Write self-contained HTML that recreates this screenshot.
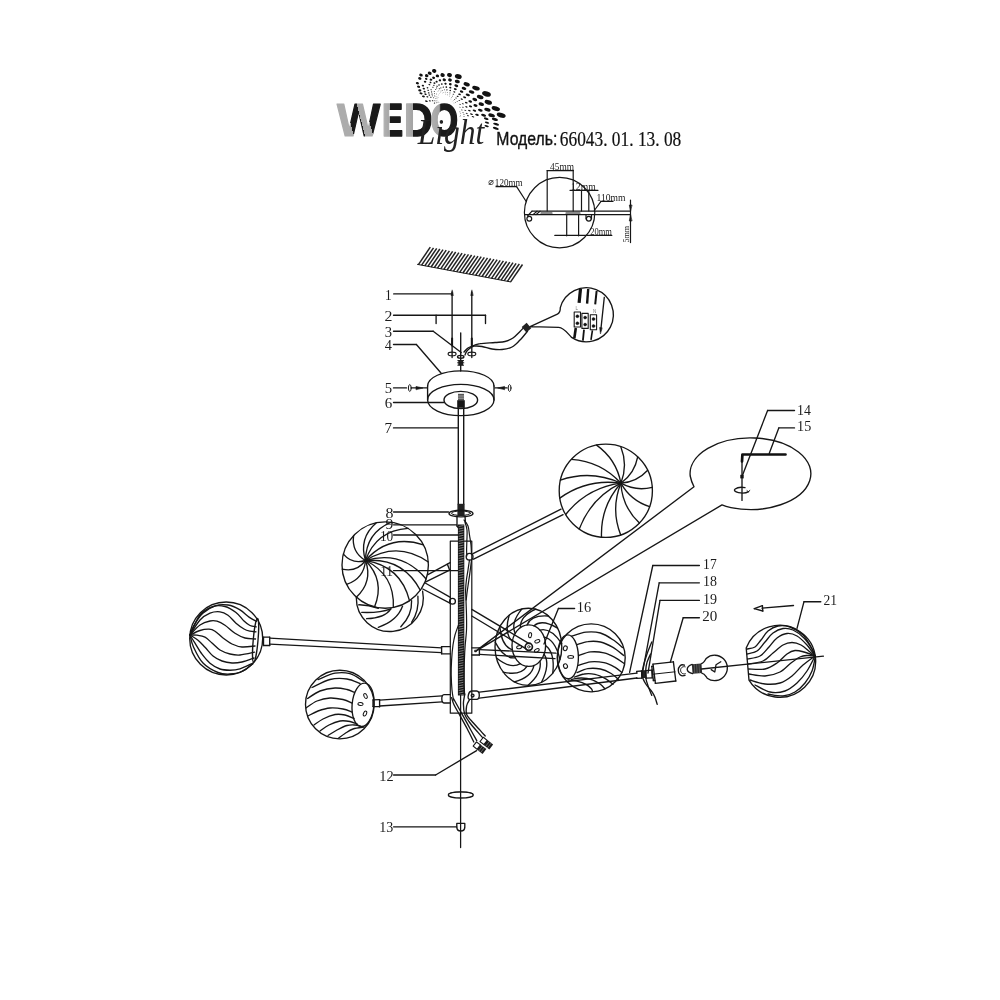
<!DOCTYPE html>
<html><head><meta charset="utf-8"><title>66043.01.13.08</title>
<style>
html,body{margin:0;padding:0;background:#fff;}
body{width:1000px;height:1000px;overflow:hidden;font-family:"Liberation Sans",sans-serif;}
svg{display:block;filter:grayscale(1);}
</style></head><body>
<svg width="1000" height="1000" viewBox="0 0 1000 1000" stroke-linecap="round" stroke-linejoin="round">
<rect x="0" y="0" width="1000" height="1000" fill="#fff"/>
<defs><linearGradient id="gW" gradientUnits="userSpaceOnUse" x1="3.33" y1="-0.89" x2="129.38" y2="-34.65"><stop offset="0.0000" stop-color="#acacac"/><stop offset="0.2468" stop-color="#acacac"/><stop offset="0.2468" stop-color="#1a1a1a"/><stop offset="0.4258" stop-color="#1a1a1a"/><stop offset="0.4258" stop-color="#acacac"/><stop offset="0.5581" stop-color="#acacac"/><stop offset="0.5581" stop-color="#1a1a1a"/><stop offset="1.0000" stop-color="#1a1a1a"/></linearGradient><linearGradient id="gE" gradientUnits="userSpaceOnUse" x1="6.00" x2="63.00" y1="0" y2="0"><stop offset="0.000" stop-color="#b0b0b0"/><stop offset="0.347" stop-color="#a4a4a4"/><stop offset="0.347" stop-color="#1a1a1a"/><stop offset="1.000" stop-color="#1a1a1a"/></linearGradient><linearGradient id="gD" gradientUnits="userSpaceOnUse" x1="6.00" x2="69.00" y1="0" y2="0"><stop offset="0.000" stop-color="#b0b0b0"/><stop offset="0.264" stop-color="#a4a4a4"/><stop offset="0.264" stop-color="#1a1a1a"/><stop offset="1.000" stop-color="#1a1a1a"/></linearGradient><linearGradient id="gO" gradientUnits="userSpaceOnUse" x1="4.00" x2="74.00" y1="0" y2="0"><stop offset="0.000" stop-color="#b0b0b0"/><stop offset="0.302" stop-color="#a4a4a4"/><stop offset="0.358" stop-color="#1a1a1a"/><stop offset="1.000" stop-color="#1a1a1a"/></linearGradient></defs>
<ellipse cx="434.5" cy="103.1" rx="0.7" ry="0.5" stroke="none" stroke-width="0" fill="#121212" transform="rotate(17 434.5 103.1)"/>
<ellipse cx="436.4" cy="102.8" rx="0.5" ry="0.3" stroke="none" stroke-width="0" fill="#121212" transform="rotate(17 436.4 102.8)"/>
<ellipse cx="438.0" cy="102.6" rx="0.4" ry="0.3" stroke="none" stroke-width="0" fill="#121212" transform="rotate(17 438.0 102.6)"/>
<ellipse cx="439.4" cy="102.6" rx="0.3" ry="0.2" stroke="none" stroke-width="0" fill="#444" transform="rotate(17 439.4 102.6)"/>
<ellipse cx="426.4" cy="101.2" rx="1.4" ry="0.8" stroke="none" stroke-width="0" fill="#121212" transform="rotate(17 426.4 101.2)"/>
<ellipse cx="429.8" cy="100.9" rx="1.0" ry="0.6" stroke="none" stroke-width="0" fill="#121212" transform="rotate(17 429.8 100.9)"/>
<ellipse cx="432.6" cy="100.8" rx="0.8" ry="0.5" stroke="none" stroke-width="0" fill="#121212" transform="rotate(17 432.6 100.8)"/>
<ellipse cx="434.9" cy="100.8" rx="0.6" ry="0.4" stroke="none" stroke-width="0" fill="#121212" transform="rotate(17 434.9 100.8)"/>
<ellipse cx="436.9" cy="100.9" rx="0.4" ry="0.3" stroke="none" stroke-width="0" fill="#121212" transform="rotate(17 436.9 100.9)"/>
<ellipse cx="438.5" cy="101.1" rx="0.3" ry="0.2" stroke="none" stroke-width="0" fill="#444" transform="rotate(17 438.5 101.1)"/>
<ellipse cx="423.4" cy="96.4" rx="1.5" ry="0.9" stroke="none" stroke-width="0" fill="#121212" transform="rotate(17 423.4 96.4)"/>
<ellipse cx="427.4" cy="96.8" rx="1.1" ry="0.7" stroke="none" stroke-width="0" fill="#121212" transform="rotate(17 427.4 96.8)"/>
<ellipse cx="430.8" cy="97.3" rx="0.8" ry="0.5" stroke="none" stroke-width="0" fill="#121212" transform="rotate(17 430.8 97.3)"/>
<ellipse cx="433.6" cy="97.8" rx="0.6" ry="0.4" stroke="none" stroke-width="0" fill="#121212" transform="rotate(17 433.6 97.8)"/>
<ellipse cx="435.9" cy="98.4" rx="0.5" ry="0.3" stroke="none" stroke-width="0" fill="#121212" transform="rotate(17 435.9 98.4)"/>
<ellipse cx="437.8" cy="98.9" rx="0.4" ry="0.2" stroke="none" stroke-width="0" fill="#444" transform="rotate(17 437.8 98.9)"/>
<ellipse cx="421.0" cy="93.4" rx="1.6" ry="1.0" stroke="none" stroke-width="0" fill="#121212" transform="rotate(17 421.0 93.4)"/>
<ellipse cx="425.5" cy="94.2" rx="1.2" ry="0.8" stroke="none" stroke-width="0" fill="#121212" transform="rotate(17 425.5 94.2)"/>
<ellipse cx="429.3" cy="95.1" rx="0.9" ry="0.6" stroke="none" stroke-width="0" fill="#121212" transform="rotate(17 429.3 95.1)"/>
<ellipse cx="432.4" cy="95.9" rx="0.7" ry="0.4" stroke="none" stroke-width="0" fill="#121212" transform="rotate(17 432.4 95.9)"/>
<ellipse cx="435.0" cy="96.7" rx="0.5" ry="0.3" stroke="none" stroke-width="0" fill="#121212" transform="rotate(17 435.0 96.7)"/>
<ellipse cx="437.1" cy="97.5" rx="0.4" ry="0.2" stroke="none" stroke-width="0" fill="#444" transform="rotate(17 437.1 97.5)"/>
<ellipse cx="419.8" cy="90.4" rx="1.6" ry="1.1" stroke="none" stroke-width="0" fill="#121212" transform="rotate(17 419.8 90.4)"/>
<ellipse cx="424.7" cy="91.7" rx="1.2" ry="0.8" stroke="none" stroke-width="0" fill="#121212" transform="rotate(17 424.7 91.7)"/>
<ellipse cx="428.7" cy="92.9" rx="0.9" ry="0.6" stroke="none" stroke-width="0" fill="#121212" transform="rotate(17 428.7 92.9)"/>
<ellipse cx="432.0" cy="94.1" rx="0.7" ry="0.5" stroke="none" stroke-width="0" fill="#121212" transform="rotate(17 432.0 94.1)"/>
<ellipse cx="434.7" cy="95.2" rx="0.5" ry="0.3" stroke="none" stroke-width="0" fill="#121212" transform="rotate(17 434.7 95.2)"/>
<ellipse cx="436.9" cy="96.2" rx="0.4" ry="0.3" stroke="none" stroke-width="0" fill="#444" transform="rotate(17 436.9 96.2)"/>
<ellipse cx="438.7" cy="97.2" rx="0.3" ry="0.2" stroke="none" stroke-width="0" fill="#444" transform="rotate(17 438.7 97.2)"/>
<ellipse cx="418.6" cy="86.8" rx="1.6" ry="1.1" stroke="none" stroke-width="0" fill="#121212" transform="rotate(17 418.6 86.8)"/>
<ellipse cx="423.8" cy="88.6" rx="1.2" ry="0.9" stroke="none" stroke-width="0" fill="#121212" transform="rotate(17 423.8 88.6)"/>
<ellipse cx="428.1" cy="90.3" rx="0.9" ry="0.6" stroke="none" stroke-width="0" fill="#121212" transform="rotate(17 428.1 90.3)"/>
<ellipse cx="431.6" cy="91.9" rx="0.7" ry="0.5" stroke="none" stroke-width="0" fill="#121212" transform="rotate(17 431.6 91.9)"/>
<ellipse cx="434.4" cy="93.4" rx="0.5" ry="0.4" stroke="none" stroke-width="0" fill="#121212" transform="rotate(17 434.4 93.4)"/>
<ellipse cx="436.7" cy="94.7" rx="0.4" ry="0.3" stroke="none" stroke-width="0" fill="#444" transform="rotate(17 436.7 94.7)"/>
<ellipse cx="438.6" cy="95.9" rx="0.3" ry="0.2" stroke="none" stroke-width="0" fill="#444" transform="rotate(17 438.6 95.9)"/>
<ellipse cx="417.4" cy="83.2" rx="1.6" ry="1.2" stroke="none" stroke-width="0" fill="#121212" transform="rotate(17 417.4 83.2)"/>
<ellipse cx="422.9" cy="85.6" rx="1.2" ry="0.9" stroke="none" stroke-width="0" fill="#121212" transform="rotate(17 422.9 85.6)"/>
<ellipse cx="427.5" cy="87.8" rx="0.9" ry="0.7" stroke="none" stroke-width="0" fill="#121212" transform="rotate(17 427.5 87.8)"/>
<ellipse cx="431.1" cy="89.7" rx="0.7" ry="0.5" stroke="none" stroke-width="0" fill="#121212" transform="rotate(17 431.1 89.7)"/>
<ellipse cx="434.2" cy="91.5" rx="0.5" ry="0.4" stroke="none" stroke-width="0" fill="#121212" transform="rotate(17 434.2 91.5)"/>
<ellipse cx="436.6" cy="93.2" rx="0.4" ry="0.3" stroke="none" stroke-width="0" fill="#444" transform="rotate(17 436.6 93.2)"/>
<ellipse cx="438.6" cy="94.6" rx="0.3" ry="0.2" stroke="none" stroke-width="0" fill="#444" transform="rotate(17 438.6 94.6)"/>
<ellipse cx="419.8" cy="78.4" rx="1.7" ry="1.3" stroke="none" stroke-width="0" fill="#121212" transform="rotate(17 419.8 78.4)"/>
<ellipse cx="425.1" cy="81.7" rx="1.3" ry="1.0" stroke="none" stroke-width="0" fill="#121212" transform="rotate(17 425.1 81.7)"/>
<ellipse cx="429.4" cy="84.6" rx="1.0" ry="0.7" stroke="none" stroke-width="0" fill="#121212" transform="rotate(17 429.4 84.6)"/>
<ellipse cx="432.9" cy="87.2" rx="0.7" ry="0.5" stroke="none" stroke-width="0" fill="#121212" transform="rotate(17 432.9 87.2)"/>
<ellipse cx="435.7" cy="89.5" rx="0.5" ry="0.4" stroke="none" stroke-width="0" fill="#121212" transform="rotate(17 435.7 89.5)"/>
<ellipse cx="438.0" cy="91.5" rx="0.4" ry="0.3" stroke="none" stroke-width="0" fill="#444" transform="rotate(17 438.0 91.5)"/>
<ellipse cx="439.8" cy="93.3" rx="0.3" ry="0.2" stroke="none" stroke-width="0" fill="#444" transform="rotate(17 439.8 93.3)"/>
<ellipse cx="421.0" cy="75.1" rx="1.8" ry="1.4" stroke="none" stroke-width="0" fill="#121212" transform="rotate(17 421.0 75.1)"/>
<ellipse cx="426.2" cy="78.9" rx="1.3" ry="1.0" stroke="none" stroke-width="0" fill="#121212" transform="rotate(17 426.2 78.9)"/>
<ellipse cx="430.5" cy="82.4" rx="1.0" ry="0.8" stroke="none" stroke-width="0" fill="#121212" transform="rotate(17 430.5 82.4)"/>
<ellipse cx="433.9" cy="85.4" rx="0.7" ry="0.6" stroke="none" stroke-width="0" fill="#121212" transform="rotate(17 433.9 85.4)"/>
<ellipse cx="436.6" cy="88.0" rx="0.6" ry="0.4" stroke="none" stroke-width="0" fill="#121212" transform="rotate(17 436.6 88.0)"/>
<ellipse cx="438.8" cy="90.3" rx="0.4" ry="0.3" stroke="none" stroke-width="0" fill="#444" transform="rotate(17 438.8 90.3)"/>
<ellipse cx="440.5" cy="92.3" rx="0.3" ry="0.2" stroke="none" stroke-width="0" fill="#444" transform="rotate(17 440.5 92.3)"/>
<ellipse cx="426.7" cy="75.7" rx="1.8" ry="1.5" stroke="none" stroke-width="0" fill="#121212" transform="rotate(17 426.7 75.7)"/>
<ellipse cx="431.0" cy="79.7" rx="1.4" ry="1.1" stroke="none" stroke-width="0" fill="#121212" transform="rotate(17 431.0 79.7)"/>
<ellipse cx="434.4" cy="83.1" rx="1.0" ry="0.8" stroke="none" stroke-width="0" fill="#121212" transform="rotate(17 434.4 83.1)"/>
<ellipse cx="437.1" cy="86.2" rx="0.8" ry="0.6" stroke="none" stroke-width="0" fill="#121212" transform="rotate(17 437.1 86.2)"/>
<ellipse cx="439.3" cy="88.8" rx="0.6" ry="0.5" stroke="none" stroke-width="0" fill="#121212" transform="rotate(17 439.3 88.8)"/>
<ellipse cx="441.0" cy="91.0" rx="0.4" ry="0.4" stroke="none" stroke-width="0" fill="#444" transform="rotate(17 441.0 91.0)"/>
<ellipse cx="442.3" cy="93.0" rx="0.3" ry="0.3" stroke="none" stroke-width="0" fill="#444" transform="rotate(17 442.3 93.0)"/>
<ellipse cx="429.7" cy="73.3" rx="2.0" ry="1.6" stroke="none" stroke-width="0" fill="#121212" transform="rotate(17 429.7 73.3)"/>
<ellipse cx="433.6" cy="77.8" rx="1.5" ry="1.2" stroke="none" stroke-width="0" fill="#121212" transform="rotate(17 433.6 77.8)"/>
<ellipse cx="436.6" cy="81.7" rx="1.1" ry="0.9" stroke="none" stroke-width="0" fill="#121212" transform="rotate(17 436.6 81.7)"/>
<ellipse cx="439.0" cy="85.0" rx="0.8" ry="0.7" stroke="none" stroke-width="0" fill="#121212" transform="rotate(17 439.0 85.0)"/>
<ellipse cx="440.9" cy="87.9" rx="0.6" ry="0.5" stroke="none" stroke-width="0" fill="#121212" transform="rotate(17 440.9 87.9)"/>
<ellipse cx="442.4" cy="90.4" rx="0.5" ry="0.4" stroke="none" stroke-width="0" fill="#444" transform="rotate(17 442.4 90.4)"/>
<ellipse cx="443.5" cy="92.5" rx="0.4" ry="0.3" stroke="none" stroke-width="0" fill="#444" transform="rotate(17 443.5 92.5)"/>
<ellipse cx="434.2" cy="70.9" rx="2.2" ry="1.9" stroke="none" stroke-width="0" fill="#121212" transform="rotate(17 434.2 70.9)"/>
<ellipse cx="437.4" cy="75.9" rx="1.7" ry="1.4" stroke="none" stroke-width="0" fill="#121212" transform="rotate(17 437.4 75.9)"/>
<ellipse cx="439.9" cy="80.3" rx="1.2" ry="1.1" stroke="none" stroke-width="0" fill="#121212" transform="rotate(17 439.9 80.3)"/>
<ellipse cx="441.8" cy="84.0" rx="0.9" ry="0.8" stroke="none" stroke-width="0" fill="#121212" transform="rotate(17 441.8 84.0)"/>
<ellipse cx="443.3" cy="87.1" rx="0.7" ry="0.6" stroke="none" stroke-width="0" fill="#121212" transform="rotate(17 443.3 87.1)"/>
<ellipse cx="444.4" cy="89.8" rx="0.5" ry="0.5" stroke="none" stroke-width="0" fill="#444" transform="rotate(17 444.4 89.8)"/>
<ellipse cx="445.2" cy="92.1" rx="0.4" ry="0.3" stroke="none" stroke-width="0" fill="#444" transform="rotate(17 445.2 92.1)"/>
<ellipse cx="445.8" cy="94.1" rx="0.3" ry="0.3" stroke="none" stroke-width="0" fill="#444" transform="rotate(17 445.8 94.1)"/>
<ellipse cx="442.6" cy="75.1" rx="2.2" ry="1.9" stroke="none" stroke-width="0" fill="#121212" transform="rotate(17 442.6 75.1)"/>
<ellipse cx="444.3" cy="79.8" rx="1.7" ry="1.4" stroke="none" stroke-width="0" fill="#121212" transform="rotate(17 444.3 79.8)"/>
<ellipse cx="445.5" cy="83.7" rx="1.2" ry="1.0" stroke="none" stroke-width="0" fill="#121212" transform="rotate(17 445.5 83.7)"/>
<ellipse cx="446.3" cy="87.1" rx="0.9" ry="0.8" stroke="none" stroke-width="0" fill="#121212" transform="rotate(17 446.3 87.1)"/>
<ellipse cx="446.9" cy="89.9" rx="0.7" ry="0.6" stroke="none" stroke-width="0" fill="#121212" transform="rotate(17 446.9 89.9)"/>
<ellipse cx="447.3" cy="92.3" rx="0.5" ry="0.4" stroke="none" stroke-width="0" fill="#444" transform="rotate(17 447.3 92.3)"/>
<ellipse cx="447.5" cy="94.3" rx="0.4" ry="0.3" stroke="none" stroke-width="0" fill="#444" transform="rotate(17 447.5 94.3)"/>
<ellipse cx="447.6" cy="95.9" rx="0.3" ry="0.2" stroke="none" stroke-width="0" fill="#444" transform="rotate(17 447.6 95.9)"/>
<ellipse cx="449.5" cy="75.1" rx="2.5" ry="2.1" stroke="none" stroke-width="0" fill="#121212" transform="rotate(17 449.5 75.1)"/>
<ellipse cx="450.0" cy="80.0" rx="1.9" ry="1.6" stroke="none" stroke-width="0" fill="#121212" transform="rotate(17 450.0 80.0)"/>
<ellipse cx="450.3" cy="84.2" rx="1.4" ry="1.2" stroke="none" stroke-width="0" fill="#121212" transform="rotate(17 450.3 84.2)"/>
<ellipse cx="450.3" cy="87.6" rx="1.1" ry="0.9" stroke="none" stroke-width="0" fill="#121212" transform="rotate(17 450.3 87.6)"/>
<ellipse cx="450.2" cy="90.5" rx="0.8" ry="0.7" stroke="none" stroke-width="0" fill="#121212" transform="rotate(17 450.2 90.5)"/>
<ellipse cx="450.0" cy="92.9" rx="0.6" ry="0.5" stroke="none" stroke-width="0" fill="#444" transform="rotate(17 450.0 92.9)"/>
<ellipse cx="449.8" cy="94.9" rx="0.4" ry="0.4" stroke="none" stroke-width="0" fill="#444" transform="rotate(17 449.8 94.9)"/>
<ellipse cx="449.5" cy="96.5" rx="0.3" ry="0.3" stroke="none" stroke-width="0" fill="#444" transform="rotate(17 449.5 96.5)"/>
<ellipse cx="458.3" cy="76.5" rx="3.5" ry="2.3" stroke="none" stroke-width="0" fill="#121212" transform="rotate(17 458.3 76.5)"/>
<ellipse cx="457.3" cy="81.5" rx="2.6" ry="1.7" stroke="none" stroke-width="0" fill="#121212" transform="rotate(17 457.3 81.5)"/>
<ellipse cx="456.3" cy="85.7" rx="2.0" ry="1.3" stroke="none" stroke-width="0" fill="#121212" transform="rotate(17 456.3 85.7)"/>
<ellipse cx="455.3" cy="89.1" rx="1.5" ry="1.0" stroke="none" stroke-width="0" fill="#121212" transform="rotate(17 455.3 89.1)"/>
<ellipse cx="454.3" cy="91.9" rx="1.1" ry="0.7" stroke="none" stroke-width="0" fill="#121212" transform="rotate(17 454.3 91.9)"/>
<ellipse cx="453.4" cy="94.2" rx="0.8" ry="0.5" stroke="none" stroke-width="0" fill="#444" transform="rotate(17 453.4 94.2)"/>
<ellipse cx="452.5" cy="96.1" rx="0.6" ry="0.4" stroke="none" stroke-width="0" fill="#444" transform="rotate(17 452.5 96.1)"/>
<ellipse cx="451.7" cy="97.7" rx="0.5" ry="0.3" stroke="none" stroke-width="0" fill="#444" transform="rotate(17 451.7 97.7)"/>
<ellipse cx="451.0" cy="99.0" rx="0.4" ry="0.2" stroke="none" stroke-width="0" fill="#444" transform="rotate(17 451.0 99.0)"/>
<ellipse cx="466.7" cy="84.3" rx="3.2" ry="2.0" stroke="none" stroke-width="0" fill="#121212" transform="rotate(17 466.7 84.3)"/>
<ellipse cx="464.0" cy="88.4" rx="2.4" ry="1.5" stroke="none" stroke-width="0" fill="#121212" transform="rotate(17 464.0 88.4)"/>
<ellipse cx="461.6" cy="91.6" rx="1.8" ry="1.1" stroke="none" stroke-width="0" fill="#121212" transform="rotate(17 461.6 91.6)"/>
<ellipse cx="459.5" cy="94.3" rx="1.4" ry="0.8" stroke="none" stroke-width="0" fill="#121212" transform="rotate(17 459.5 94.3)"/>
<ellipse cx="457.6" cy="96.4" rx="1.0" ry="0.6" stroke="none" stroke-width="0" fill="#121212" transform="rotate(17 457.6 96.4)"/>
<ellipse cx="456.0" cy="98.1" rx="0.8" ry="0.5" stroke="none" stroke-width="0" fill="#444" transform="rotate(17 456.0 98.1)"/>
<ellipse cx="454.6" cy="99.5" rx="0.6" ry="0.4" stroke="none" stroke-width="0" fill="#444" transform="rotate(17 454.6 99.5)"/>
<ellipse cx="453.3" cy="100.5" rx="0.4" ry="0.3" stroke="none" stroke-width="0" fill="#444" transform="rotate(17 453.3 100.5)"/>
<ellipse cx="452.2" cy="101.4" rx="0.3" ry="0.2" stroke="none" stroke-width="0" fill="#444" transform="rotate(17 452.2 101.4)"/>
<ellipse cx="476.0" cy="88.2" rx="3.9" ry="2.1" stroke="none" stroke-width="0" fill="#121212" transform="rotate(17 476.0 88.2)"/>
<ellipse cx="471.6" cy="92.0" rx="2.9" ry="1.6" stroke="none" stroke-width="0" fill="#121212" transform="rotate(17 471.6 92.0)"/>
<ellipse cx="467.8" cy="94.9" rx="2.2" ry="1.2" stroke="none" stroke-width="0" fill="#121212" transform="rotate(17 467.8 94.9)"/>
<ellipse cx="464.6" cy="97.3" rx="1.6" ry="0.9" stroke="none" stroke-width="0" fill="#121212" transform="rotate(17 464.6 97.3)"/>
<ellipse cx="461.7" cy="99.1" rx="1.2" ry="0.7" stroke="none" stroke-width="0" fill="#121212" transform="rotate(17 461.7 99.1)"/>
<ellipse cx="459.3" cy="100.5" rx="0.9" ry="0.5" stroke="none" stroke-width="0" fill="#444" transform="rotate(17 459.3 100.5)"/>
<ellipse cx="457.2" cy="101.6" rx="0.7" ry="0.4" stroke="none" stroke-width="0" fill="#444" transform="rotate(17 457.2 101.6)"/>
<ellipse cx="455.5" cy="102.4" rx="0.5" ry="0.3" stroke="none" stroke-width="0" fill="#444" transform="rotate(17 455.5 102.4)"/>
<ellipse cx="454.0" cy="103.0" rx="0.4" ry="0.2" stroke="none" stroke-width="0" fill="#444" transform="rotate(17 454.0 103.0)"/>
<ellipse cx="486.5" cy="93.9" rx="4.5" ry="2.6" stroke="none" stroke-width="0" fill="#121212" transform="rotate(17 486.5 93.9)"/>
<ellipse cx="480.2" cy="97.1" rx="3.4" ry="2.0" stroke="none" stroke-width="0" fill="#121212" transform="rotate(17 480.2 97.1)"/>
<ellipse cx="474.8" cy="99.5" rx="2.5" ry="1.5" stroke="none" stroke-width="0" fill="#121212" transform="rotate(17 474.8 99.5)"/>
<ellipse cx="470.2" cy="101.4" rx="1.9" ry="1.1" stroke="none" stroke-width="0" fill="#121212" transform="rotate(17 470.2 101.4)"/>
<ellipse cx="466.3" cy="102.7" rx="1.4" ry="0.8" stroke="none" stroke-width="0" fill="#121212" transform="rotate(17 466.3 102.7)"/>
<ellipse cx="462.9" cy="103.7" rx="1.1" ry="0.6" stroke="none" stroke-width="0" fill="#444" transform="rotate(17 462.9 103.7)"/>
<ellipse cx="460.1" cy="104.4" rx="0.8" ry="0.5" stroke="none" stroke-width="0" fill="#444" transform="rotate(17 460.1 104.4)"/>
<ellipse cx="488.3" cy="102.3" rx="3.8" ry="2.2" stroke="none" stroke-width="0" fill="#121212" transform="rotate(17 488.3 102.3)"/>
<ellipse cx="481.3" cy="104.2" rx="2.8" ry="1.7" stroke="none" stroke-width="0" fill="#121212" transform="rotate(17 481.3 104.2)"/>
<ellipse cx="475.5" cy="105.5" rx="2.1" ry="1.3" stroke="none" stroke-width="0" fill="#121212" transform="rotate(17 475.5 105.5)"/>
<ellipse cx="470.5" cy="106.4" rx="1.6" ry="0.9" stroke="none" stroke-width="0" fill="#121212" transform="rotate(17 470.5 106.4)"/>
<ellipse cx="466.4" cy="106.9" rx="1.2" ry="0.7" stroke="none" stroke-width="0" fill="#121212" transform="rotate(17 466.4 106.9)"/>
<ellipse cx="462.9" cy="107.2" rx="0.9" ry="0.5" stroke="none" stroke-width="0" fill="#444" transform="rotate(17 462.9 107.2)"/>
<ellipse cx="460.0" cy="107.3" rx="0.7" ry="0.4" stroke="none" stroke-width="0" fill="#444" transform="rotate(17 460.0 107.3)"/>
<ellipse cx="495.8" cy="108.6" rx="4.3" ry="2.2" stroke="none" stroke-width="0" fill="#121212" transform="rotate(17 495.8 108.6)"/>
<ellipse cx="487.4" cy="109.7" rx="3.2" ry="1.7" stroke="none" stroke-width="0" fill="#121212" transform="rotate(17 487.4 109.7)"/>
<ellipse cx="480.3" cy="110.3" rx="2.4" ry="1.3" stroke="none" stroke-width="0" fill="#121212" transform="rotate(17 480.3 110.3)"/>
<ellipse cx="474.4" cy="110.6" rx="1.8" ry="0.9" stroke="none" stroke-width="0" fill="#121212" transform="rotate(17 474.4 110.6)"/>
<ellipse cx="469.4" cy="110.6" rx="1.4" ry="0.7" stroke="none" stroke-width="0" fill="#121212" transform="rotate(17 469.4 110.6)"/>
<ellipse cx="465.3" cy="110.4" rx="1.0" ry="0.5" stroke="none" stroke-width="0" fill="#444" transform="rotate(17 465.3 110.4)"/>
<ellipse cx="461.8" cy="110.0" rx="0.8" ry="0.4" stroke="none" stroke-width="0" fill="#444" transform="rotate(17 461.8 110.0)"/>
<ellipse cx="501.2" cy="115.2" rx="4.6" ry="2.4" stroke="none" stroke-width="0" fill="#121212" transform="rotate(17 501.2 115.2)"/>
<ellipse cx="491.6" cy="115.4" rx="3.4" ry="1.8" stroke="none" stroke-width="0" fill="#121212" transform="rotate(17 491.6 115.4)"/>
<ellipse cx="483.6" cy="115.3" rx="2.6" ry="1.3" stroke="none" stroke-width="0" fill="#121212" transform="rotate(17 483.6 115.3)"/>
<ellipse cx="477.0" cy="114.8" rx="1.9" ry="1.0" stroke="none" stroke-width="0" fill="#121212" transform="rotate(17 477.0 114.8)"/>
<ellipse cx="471.4" cy="114.2" rx="1.5" ry="0.7" stroke="none" stroke-width="0" fill="#121212" transform="rotate(17 471.4 114.2)"/>
<ellipse cx="466.8" cy="113.5" rx="1.1" ry="0.6" stroke="none" stroke-width="0" fill="#444" transform="rotate(17 466.8 113.5)"/>
<ellipse cx="463.0" cy="112.7" rx="0.8" ry="0.4" stroke="none" stroke-width="0" fill="#444" transform="rotate(17 463.0 112.7)"/>
<ellipse cx="459.9" cy="111.9" rx="0.6" ry="0.3" stroke="none" stroke-width="0" fill="#444" transform="rotate(17 459.9 111.9)"/>
<ellipse cx="494.9" cy="119.4" rx="3.2" ry="1.4" stroke="none" stroke-width="0" fill="#121212" transform="rotate(17 494.9 119.4)"/>
<ellipse cx="486.2" cy="118.7" rx="2.4" ry="1.1" stroke="none" stroke-width="0" fill="#121212" transform="rotate(17 486.2 118.7)"/>
<ellipse cx="473.0" cy="116.7" rx="1.4" ry="0.6" stroke="none" stroke-width="0" fill="#121212" transform="rotate(17 473.0 116.7)"/>
<ellipse cx="468.0" cy="115.7" rx="1.0" ry="0.5" stroke="none" stroke-width="0" fill="#121212" transform="rotate(17 468.0 115.7)"/>
<ellipse cx="463.9" cy="114.6" rx="0.8" ry="0.3" stroke="none" stroke-width="0" fill="#444" transform="rotate(17 463.9 114.6)"/>
<ellipse cx="460.6" cy="113.5" rx="0.6" ry="0.3" stroke="none" stroke-width="0" fill="#444" transform="rotate(17 460.6 113.5)"/>
<ellipse cx="496.1" cy="124.2" rx="3.1" ry="1.2" stroke="none" stroke-width="0" fill="#121212" transform="rotate(17 496.1 124.2)"/>
<ellipse cx="487.0" cy="122.7" rx="2.3" ry="0.9" stroke="none" stroke-width="0" fill="#121212" transform="rotate(17 487.0 122.7)"/>
<ellipse cx="464.0" cy="116.6" rx="0.7" ry="0.3" stroke="none" stroke-width="0" fill="#444" transform="rotate(17 464.0 116.6)"/>
<ellipse cx="460.5" cy="115.2" rx="0.6" ry="0.2" stroke="none" stroke-width="0" fill="#444" transform="rotate(17 460.5 115.2)"/>
<ellipse cx="495.8" cy="128.4" rx="3.1" ry="1.2" stroke="none" stroke-width="0" fill="#121212" transform="rotate(17 495.8 128.4)"/>
<ellipse cx="486.6" cy="126.2" rx="2.3" ry="0.9" stroke="none" stroke-width="0" fill="#121212" transform="rotate(17 486.6 126.2)"/>
<ellipse cx="460.0" cy="116.5" rx="0.6" ry="0.2" stroke="none" stroke-width="0" fill="#444" transform="rotate(17 460.0 116.5)"/>
<g><text transform="translate(337.00,136.00) scale(0.4589,0.4696)" font-size="100" font-weight="bold" font-style="normal" style="font-family:&quot;Liberation Sans&quot;,sans-serif" fill="url(#gW)" stroke="url(#gW)" stroke-width="2.6">W</text><text transform="translate(382.11,135.80) scale(0.3158,0.4638)" font-size="100" font-weight="bold" font-style="normal" style="font-family:&quot;Liberation Sans&quot;,sans-serif" fill="url(#gE)" stroke="url(#gE)" stroke-width="3.4">E</text><text transform="translate(403.93,135.70) scale(0.3952,0.4551)" font-size="100" font-weight="bold" font-style="normal" style="font-family:&quot;Liberation Sans&quot;,sans-serif" fill="url(#gD)" stroke="url(#gD)" stroke-width="3.4">D</text><text transform="translate(430.38,136.20) scale(0.3557,0.4629)" font-size="100" font-weight="bold" font-style="normal" style="font-family:&quot;Liberation Sans&quot;,sans-serif" fill="url(#gO)" stroke="url(#gO)" stroke-width="3.4">O</text></g>
<text transform="translate(417.63,144.00) scale(0.3157,0.3551)" font-size="100" font-weight="normal" font-style="italic" style="font-family:&quot;Liberation Serif&quot;,serif" fill="#222" >Light</text>
<text transform="translate(496.34,145.30) scale(0.1579,0.1826)" font-size="100" font-weight="normal" font-style="normal" style="font-family:&quot;Liberation Sans&quot;,sans-serif" fill="#111" stroke="#111" stroke-width="2">Модель:</text>
<text transform="translate(559.81,146.30) scale(0.1736,0.2000)" font-size="100" font-weight="normal" font-style="normal" style="font-family:&quot;Liberation Serif&quot;,serif" fill="#111" stroke="#111" stroke-width="1">66043. 01. 13. 08</text>
<ellipse cx="559.6" cy="212.6" rx="35.2" ry="35.2" stroke="#161616" stroke-width="1.2" fill="none"/>
<text transform="translate(550.11,170.00) scale(0.0938,0.1108)" font-size="100" font-weight="normal" font-style="normal" style="font-family:&quot;Liberation Serif&quot;,serif" fill="#1a1a1a" >45mm</text>
<line x1="547.2" y1="170.6" x2="573.4" y2="170.6" stroke="#161616" stroke-width="1.2" />
<line x1="547.2" y1="170.6" x2="547.2" y2="211.0" stroke="#161616" stroke-width="1.2" />
<line x1="573.2" y1="170.6" x2="573.2" y2="211.0" stroke="#161616" stroke-width="1.2" />
<text transform="translate(488.32,185.40) scale(0.0926,0.1000)" font-size="100" font-weight="normal" font-style="normal" style="font-family:&quot;DejaVu Sans&quot;,sans-serif" fill="#1a1a1a" >⌀</text>
<text transform="translate(494.87,186.00) scale(0.0906,0.1121)" font-size="100" font-weight="normal" font-style="normal" style="font-family:&quot;Liberation Serif&quot;,serif" fill="#1a1a1a" >120mm</text>
<line x1="496.0" y1="186.7" x2="516.6" y2="186.7" stroke="#161616" stroke-width="1.2" />
<line x1="516.6" y1="186.7" x2="526.2" y2="201.5" stroke="#161616" stroke-width="1.2" />
<text transform="translate(571.03,189.80) scale(0.0964,0.1061)" font-size="100" font-weight="normal" font-style="normal" style="font-family:&quot;Liberation Serif&quot;,serif" fill="#1a1a1a" >12mm</text>
<line x1="570.0" y1="190.3" x2="598.0" y2="190.3" stroke="#161616" stroke-width="1.2" />
<line x1="581.5" y1="190.3" x2="581.5" y2="211.0" stroke="#161616" stroke-width="1.2" />
<line x1="588.8" y1="190.3" x2="588.8" y2="211.0" stroke="#161616" stroke-width="1.2" />
<text transform="translate(596.53,200.90) scale(0.0959,0.1076)" font-size="100" font-weight="normal" font-style="normal" style="font-family:&quot;Liberation Serif&quot;,serif" fill="#1a1a1a" >110mm</text>
<line x1="613.0" y1="201.4" x2="601.0" y2="201.4" stroke="#161616" stroke-width="1.2" />
<line x1="601.0" y1="201.4" x2="594.3" y2="210.5" stroke="#161616" stroke-width="1.2" />
<line x1="532.0" y1="211.1" x2="630.5" y2="211.1" stroke="#161616" stroke-width="1.2" />
<line x1="525.0" y1="214.6" x2="630.5" y2="214.6" stroke="#161616" stroke-width="1.2" />
<line x1="532.0" y1="211.1" x2="527.5" y2="216.0" stroke="#161616" stroke-width="1.2" />
<ellipse cx="529.3" cy="218.8" rx="2.4" ry="2.4" stroke="#161616" stroke-width="1.2" fill="none"/>
<line x1="533.0" y1="214.6" x2="537.0" y2="211.2" stroke="#161616" stroke-width="1.2" />
<line x1="536.0" y1="214.6" x2="540.0" y2="211.2" stroke="#161616" stroke-width="1.2" />
<line x1="541.0" y1="213.0" x2="552.0" y2="213.0" stroke="#161616" stroke-width="1.2" />
<ellipse cx="588.8" cy="218.8" rx="2.4" ry="2.4" stroke="#161616" stroke-width="1.2" fill="none"/>
<line x1="586.0" y1="214.6" x2="586.0" y2="219.0" stroke="#161616" stroke-width="1.2" />
<line x1="591.5" y1="214.6" x2="591.5" y2="219.0" stroke="#161616" stroke-width="1.2" />
<line x1="566.0" y1="213.0" x2="580.0" y2="213.0" stroke="#161616" stroke-width="1.2" />
<line x1="566.7" y1="214.6" x2="566.7" y2="235.8" stroke="#161616" stroke-width="1.2" />
<line x1="578.6" y1="214.6" x2="578.6" y2="235.8" stroke="#161616" stroke-width="1.2" />
<line x1="554.8" y1="235.4" x2="611.8" y2="235.4" stroke="#161616" stroke-width="1.2" />
<text transform="translate(590.16,235.40) scale(0.0849,0.1030)" font-size="100" font-weight="normal" font-style="normal" style="font-family:&quot;Liberation Serif&quot;,serif" fill="#1a1a1a" >20mm</text>
<line x1="630.5" y1="200.0" x2="630.5" y2="242.6" stroke="#161616" stroke-width="1.2" />
<path d="M630.5,211.1 L629.3,205.0 L631.7,205.0 Z" stroke="#161616" stroke-width="0.6" fill="#161616" />
<path d="M630.5,214.6 L629.3,221.0 L631.7,221.0 Z" stroke="#161616" stroke-width="0.6" fill="#161616" />
<text x="0" y="0" font-size="8.5" style="font-family:&quot;Liberation Serif&quot;,serif" fill="#1a1a1a" transform="translate(629.3,242.6) rotate(-90)" textLength="16.5" lengthAdjust="spacingAndGlyphs">5mm</text>
<line x1="418.4" y1="264.6" x2="430.3" y2="247.2" stroke="#222" stroke-width="1.5" stroke-linecap="butt"/>
<line x1="421.6" y1="265.2" x2="433.5" y2="247.8" stroke="#222" stroke-width="1.5" stroke-linecap="butt"/>
<line x1="424.8" y1="265.8" x2="436.7" y2="248.4" stroke="#222" stroke-width="1.5" stroke-linecap="butt"/>
<line x1="427.9" y1="266.4" x2="439.8" y2="249.0" stroke="#222" stroke-width="1.5" stroke-linecap="butt"/>
<line x1="431.1" y1="267.0" x2="443.0" y2="249.6" stroke="#222" stroke-width="1.5" stroke-linecap="butt"/>
<line x1="434.3" y1="267.6" x2="446.2" y2="250.2" stroke="#222" stroke-width="1.5" stroke-linecap="butt"/>
<line x1="437.5" y1="268.2" x2="449.4" y2="250.8" stroke="#222" stroke-width="1.5" stroke-linecap="butt"/>
<line x1="440.7" y1="268.8" x2="452.6" y2="251.4" stroke="#222" stroke-width="1.5" stroke-linecap="butt"/>
<line x1="443.8" y1="269.4" x2="455.7" y2="252.0" stroke="#222" stroke-width="1.5" stroke-linecap="butt"/>
<line x1="447.0" y1="270.0" x2="458.9" y2="252.6" stroke="#222" stroke-width="1.5" stroke-linecap="butt"/>
<line x1="450.2" y1="270.6" x2="462.1" y2="253.2" stroke="#222" stroke-width="1.5" stroke-linecap="butt"/>
<line x1="453.4" y1="271.2" x2="465.3" y2="253.8" stroke="#222" stroke-width="1.5" stroke-linecap="butt"/>
<line x1="456.6" y1="271.8" x2="468.5" y2="254.4" stroke="#222" stroke-width="1.5" stroke-linecap="butt"/>
<line x1="459.7" y1="272.4" x2="471.6" y2="255.0" stroke="#222" stroke-width="1.5" stroke-linecap="butt"/>
<line x1="462.9" y1="273.0" x2="474.8" y2="255.6" stroke="#222" stroke-width="1.5" stroke-linecap="butt"/>
<line x1="466.1" y1="273.5" x2="478.0" y2="256.1" stroke="#222" stroke-width="1.5" stroke-linecap="butt"/>
<line x1="469.3" y1="274.1" x2="481.2" y2="256.7" stroke="#222" stroke-width="1.5" stroke-linecap="butt"/>
<line x1="472.4" y1="274.7" x2="484.3" y2="257.3" stroke="#222" stroke-width="1.5" stroke-linecap="butt"/>
<line x1="475.6" y1="275.3" x2="487.5" y2="257.9" stroke="#222" stroke-width="1.5" stroke-linecap="butt"/>
<line x1="478.8" y1="275.9" x2="490.7" y2="258.5" stroke="#222" stroke-width="1.5" stroke-linecap="butt"/>
<line x1="482.0" y1="276.5" x2="493.9" y2="259.1" stroke="#222" stroke-width="1.5" stroke-linecap="butt"/>
<line x1="485.2" y1="277.1" x2="497.1" y2="259.7" stroke="#222" stroke-width="1.5" stroke-linecap="butt"/>
<line x1="488.3" y1="277.7" x2="500.2" y2="260.3" stroke="#222" stroke-width="1.5" stroke-linecap="butt"/>
<line x1="491.5" y1="278.3" x2="503.4" y2="260.9" stroke="#222" stroke-width="1.5" stroke-linecap="butt"/>
<line x1="494.7" y1="278.9" x2="506.6" y2="261.5" stroke="#222" stroke-width="1.5" stroke-linecap="butt"/>
<line x1="497.9" y1="279.5" x2="509.8" y2="262.1" stroke="#222" stroke-width="1.5" stroke-linecap="butt"/>
<line x1="501.1" y1="280.1" x2="513.0" y2="262.7" stroke="#222" stroke-width="1.5" stroke-linecap="butt"/>
<line x1="504.2" y1="280.7" x2="516.1" y2="263.3" stroke="#222" stroke-width="1.5" stroke-linecap="butt"/>
<line x1="507.4" y1="281.3" x2="519.3" y2="263.9" stroke="#222" stroke-width="1.5" stroke-linecap="butt"/>
<line x1="510.6" y1="281.9" x2="522.5" y2="264.5" stroke="#222" stroke-width="1.5" stroke-linecap="butt"/>
<line x1="417.5" y1="264.4" x2="510.6" y2="281.9" stroke="#161616" stroke-width="1.0" />
<text transform="translate(384.93,299.60) scale(0.1333,0.1530)" font-size="100" font-weight="normal" font-style="normal" style="font-family:&quot;Liberation Serif&quot;,serif" fill="#1c1c1c" >1</text>
<text transform="translate(384.57,320.80) scale(0.1585,0.1530)" font-size="100" font-weight="normal" font-style="normal" style="font-family:&quot;Liberation Serif&quot;,serif" fill="#1c1c1c" >2</text>
<text transform="translate(384.71,336.80) scale(0.1465,0.1530)" font-size="100" font-weight="normal" font-style="normal" style="font-family:&quot;Liberation Serif&quot;,serif" fill="#1c1c1c" >3</text>
<text transform="translate(384.86,349.70) scale(0.1437,0.1554)" font-size="100" font-weight="normal" font-style="normal" style="font-family:&quot;Liberation Serif&quot;,serif" fill="#1c1c1c" >4</text>
<text transform="translate(384.86,393.00) scale(0.1476,0.1554)" font-size="100" font-weight="normal" font-style="normal" style="font-family:&quot;Liberation Serif&quot;,serif" fill="#1c1c1c" >5</text>
<text transform="translate(384.80,407.70) scale(0.1500,0.1530)" font-size="100" font-weight="normal" font-style="normal" style="font-family:&quot;Liberation Serif&quot;,serif" fill="#1c1c1c" >6</text>
<text transform="translate(384.49,433.30) scale(0.1524,0.1554)" font-size="100" font-weight="normal" font-style="normal" style="font-family:&quot;Liberation Serif&quot;,serif" fill="#1c1c1c" >7</text>
<text transform="translate(385.52,517.60) scale(0.1591,0.1530)" font-size="100" font-weight="normal" font-style="normal" style="font-family:&quot;Liberation Serif&quot;,serif" fill="#1c1c1c" >8</text>
<text transform="translate(385.53,529.20) scale(0.1581,0.1530)" font-size="100" font-weight="normal" font-style="normal" style="font-family:&quot;Liberation Serif&quot;,serif" fill="#1c1c1c" >9</text>
<text transform="translate(379.93,540.50) scale(0.1337,0.1530)" font-size="100" font-weight="normal" font-style="normal" style="font-family:&quot;Liberation Serif&quot;,serif" fill="#1c1c1c" >10</text>
<text transform="translate(380.13,576.40) scale(0.1337,0.1530)" font-size="100" font-weight="normal" font-style="normal" style="font-family:&quot;Liberation Serif&quot;,serif" fill="#1c1c1c" >11</text>
<text transform="translate(379.25,781.20) scale(0.1437,0.1530)" font-size="100" font-weight="normal" font-style="normal" style="font-family:&quot;Liberation Serif&quot;,serif" fill="#1c1c1c" >12</text>
<text transform="translate(379.28,832.40) scale(0.1404,0.1530)" font-size="100" font-weight="normal" font-style="normal" style="font-family:&quot;Liberation Serif&quot;,serif" fill="#1c1c1c" >13</text>
<line x1="393.7" y1="293.9" x2="451.6" y2="293.9" stroke="#161616" stroke-width="1.35" />
<line x1="452.1" y1="292.0" x2="452.1" y2="357.6" stroke="#161616" stroke-width="1.35" />
<path d="M452.1,290.2 L451.0,295.5 L453.2,295.5 Z" stroke="#161616" stroke-width="0.5" fill="#161616" />
<line x1="452.1" y1="338.5" x2="452.1" y2="345.5" stroke="#161616" stroke-width="2.0" />
<ellipse cx="452.1" cy="353.9" rx="4.0" ry="1.8" stroke="#161616" stroke-width="1.1" fill="none"/>
<line x1="471.8" y1="292.0" x2="471.8" y2="357.6" stroke="#161616" stroke-width="1.35" />
<path d="M471.8,290.2 L470.7,295.5 L472.9,295.5 Z" stroke="#161616" stroke-width="0.5" fill="#161616" />
<line x1="471.8" y1="338.5" x2="471.8" y2="345.5" stroke="#161616" stroke-width="2.0" />
<ellipse cx="471.8" cy="353.9" rx="4.0" ry="1.8" stroke="#161616" stroke-width="1.1" fill="none"/>
<line x1="393.5" y1="315.2" x2="485.5" y2="315.2" stroke="#161616" stroke-width="1.35" />
<line x1="436.1" y1="315.2" x2="436.1" y2="323.5" stroke="#161616" stroke-width="1.35" />
<line x1="485.5" y1="315.2" x2="485.5" y2="323.5" stroke="#161616" stroke-width="1.35" />
<line x1="393.5" y1="331.2" x2="433.2" y2="331.2" stroke="#161616" stroke-width="1.35" />
<line x1="433.2" y1="331.2" x2="461.2" y2="352.5" stroke="#161616" stroke-width="1.35" />
<line x1="393.5" y1="344.5" x2="416.4" y2="344.5" stroke="#161616" stroke-width="1.35" />
<line x1="416.4" y1="344.5" x2="441.2" y2="373.3" stroke="#161616" stroke-width="1.35" />
<line x1="460.7" y1="332.8" x2="460.7" y2="371.0" stroke="#161616" stroke-width="1.35" />
<ellipse cx="460.7" cy="356.8" rx="3.2" ry="1.5" stroke="#161616" stroke-width="1.35" fill="none"/>
<rect x="458.3" y="360.3" width="4.8" height="5" fill="#222"/>
<line x1="457.6" y1="362.8" x2="463.8" y2="362.8" stroke="#161616" stroke-width="1" />
<line x1="457.8" y1="360.6" x2="463.6" y2="360.6" stroke="#161616" stroke-width="1" />
<line x1="457.8" y1="365.2" x2="463.6" y2="365.2" stroke="#161616" stroke-width="1" />
<path d="M464.0,352.0 C464.4,351.5 465.5,350.0 466.5,349.2 C467.5,348.4 467.8,347.9 470.0,347.0 C472.2,346.1 475.8,344.4 480.0,343.7 C484.2,342.9 490.8,342.9 495.0,342.5 C499.2,342.1 502.0,342.2 505.0,341.5 C508.0,340.8 510.5,339.7 513.0,338.0 C515.5,336.3 518.2,333.2 520.0,331.5 C521.8,329.8 522.9,328.4 523.5,327.8" stroke="#161616" stroke-width="1.35" fill="none" />
<path d="M465.0,355.0 C465.2,354.4 465.8,352.5 466.5,351.5 C467.2,350.5 467.8,349.9 469.0,349.0 C470.2,348.1 471.8,346.6 474.0,346.2 C476.2,345.8 479.0,346.0 482.0,346.5 C485.0,347.0 488.7,348.5 492.0,349.0 C495.3,349.5 498.7,349.8 502.0,349.5 C505.3,349.2 509.0,348.6 512.0,347.0 C515.0,345.4 517.4,342.6 520.0,340.0 C522.6,337.4 526.2,332.7 527.5,331.2" stroke="#161616" stroke-width="1.35" fill="none" />
<rect x="-3.6" y="-3.2" width="7.2" height="6.4" fill="#222" transform="translate(526.5,327.6) rotate(50)"/>
<path d="M427.6,386 A33.2,15.2 0 0 1 494,386" stroke="#161616" stroke-width="1.35" fill="none" />
<line x1="427.6" y1="386.0" x2="427.6" y2="400.0" stroke="#161616" stroke-width="1.35" />
<line x1="494.0" y1="386.0" x2="494.0" y2="400.0" stroke="#161616" stroke-width="1.35" />
<ellipse cx="460.8" cy="400.0" rx="33.2" ry="15.6" stroke="#161616" stroke-width="1.35" fill="none"/>
<ellipse cx="460.8" cy="400.0" rx="16.8" ry="8.6" stroke="#161616" stroke-width="1.4" fill="none"/>
<line x1="393.5" y1="387.9" x2="406.5" y2="387.9" stroke="#161616" stroke-width="1.35" />
<line x1="411.5" y1="387.9" x2="426.8" y2="387.9" stroke="#161616" stroke-width="1.35" />
<ellipse cx="409.8" cy="388.0" rx="1.4" ry="3.4" stroke="#161616" stroke-width="1.0" fill="none"/>
<path d="M422.6,387.9 L416.0,386.4 L416.0,389.4 Z" stroke="#161616" stroke-width="0.6" fill="#161616" />
<line x1="494.8" y1="387.9" x2="507.0" y2="387.9" stroke="#161616" stroke-width="1.35" />
<path d="M498.0,387.9 L504.6,386.4 L504.6,389.4 Z" stroke="#161616" stroke-width="0.6" fill="#161616" />
<ellipse cx="509.6" cy="388.0" rx="1.4" ry="3.4" stroke="#161616" stroke-width="1.0" fill="none"/>
<line x1="393.5" y1="402.5" x2="443.6" y2="402.5" stroke="#161616" stroke-width="1.35" />
<line x1="393.5" y1="427.9" x2="458.0" y2="427.9" stroke="#161616" stroke-width="1.35" />
<rect x="458.0" y="393.8" width="6.0" height="6.6" fill="#555"/>
<line x1="458.0" y1="396.0" x2="464.0" y2="396.0" stroke="#ddd" stroke-width="0.6" />
<line x1="458.0" y1="398.2" x2="464.0" y2="398.2" stroke="#ddd" stroke-width="0.6" />
<rect x="457.2" y="400.2" width="7.6" height="7.6" fill="#161616"/>
<line x1="458.3" y1="407.8" x2="458.3" y2="504.0" stroke="#161616" stroke-width="1.4" />
<line x1="463.7" y1="407.8" x2="463.7" y2="504.0" stroke="#161616" stroke-width="1.4" />
<path d="M530.1,326.7 L557.4,314.1 C560,313 560.4,311 560.3,307.6 A27,27 0 1 1 571.6,337.4 C568,334 564,327.6 558.8,327.4 L530.1,326.7" stroke="#161616" stroke-width="1.35" fill="none" />
<line x1="580.5" y1="288.8" x2="579.1" y2="302.9" stroke="#111" stroke-width="3.2" stroke-linecap="butt"/>
<line x1="588.2" y1="289.0" x2="587.1" y2="303.6" stroke="#111" stroke-width="2.4" stroke-linecap="butt"/>
<line x1="596.6" y1="291.0" x2="595.2" y2="304.3" stroke="#111" stroke-width="2.0" stroke-linecap="butt"/>
<line x1="604.3" y1="297.3" x2="600.7" y2="331.0" stroke="#161616" stroke-width="1.35" />
<path d="M600.4,333.6 L599.6,327.5 L601.9,327.8 Z" stroke="#161616" stroke-width="0.5" fill="#161616" />
<rect x="574.2" y="312.0" width="6.3" height="15" fill="#fff" stroke="#161616" stroke-width="1.1"/>
<ellipse cx="577.4" cy="316.2" rx="1.5" ry="1.5" stroke="#161616" stroke-width="0.4" fill="#111"/>
<ellipse cx="577.4" cy="323.2" rx="1.5" ry="1.5" stroke="#161616" stroke-width="0.4" fill="#111"/>
<rect x="581.9" y="313.4" width="6.3" height="15" fill="#fff" stroke="#161616" stroke-width="1.1"/>
<ellipse cx="585.1" cy="317.6" rx="1.5" ry="1.5" stroke="#161616" stroke-width="0.4" fill="#111"/>
<ellipse cx="585.1" cy="324.6" rx="1.5" ry="1.5" stroke="#161616" stroke-width="0.4" fill="#111"/>
<rect x="590.3" y="314.8" width="6.3" height="15" fill="#fff" stroke="#161616" stroke-width="1.1"/>
<ellipse cx="593.5" cy="319.0" rx="1.5" ry="1.5" stroke="#161616" stroke-width="0.4" fill="#111"/>
<ellipse cx="593.5" cy="326.0" rx="1.5" ry="1.5" stroke="#161616" stroke-width="0.4" fill="#111"/>
<line x1="575.8" y1="328.0" x2="574.3" y2="338.4" stroke="#111" stroke-width="2.6" stroke-linecap="butt"/>
<line x1="584.0" y1="329.6" x2="582.9" y2="340.6" stroke="#111" stroke-width="1.8" stroke-linecap="butt"/>
<line x1="592.4" y1="330.3" x2="591.0" y2="339.8" stroke="#111" stroke-width="1.6" stroke-linecap="butt"/>
<text x="575.5" y="310.0" font-size="4.5" text-anchor="start" style="font-family:&quot;Liberation Sans&quot;, sans-serif" fill="#777" >L</text>
<text x="593.0" y="312.6" font-size="4.5" text-anchor="start" style="font-family:&quot;Liberation Sans&quot;, sans-serif" fill="#777" >N</text>
<rect x="457.4" y="503.8" width="7.2" height="12" fill="#222"/>
<ellipse cx="461.0" cy="513.5" rx="12.0" ry="3.4" stroke="#161616" stroke-width="1.35" fill="none"/>
<ellipse cx="461.0" cy="513.2" rx="9.6" ry="2.2" stroke="#161616" stroke-width="1.0" fill="none"/>
<line x1="393.5" y1="512.0" x2="448.5" y2="512.0" stroke="#161616" stroke-width="1.35" />
<line x1="393.5" y1="524.8" x2="456.8" y2="524.8" stroke="#161616" stroke-width="1.35" />
<line x1="393.5" y1="535.0" x2="458.0" y2="535.0" stroke="#161616" stroke-width="1.35" />
<line x1="393.5" y1="570.6" x2="458.0" y2="570.6" stroke="#161616" stroke-width="1.35" />
<line x1="457.0" y1="516.0" x2="457.0" y2="526.0" stroke="#161616" stroke-width="1.35" />
<line x1="457.0" y1="526.0" x2="459.0" y2="528.5" stroke="#161616" stroke-width="1.35" />
<line x1="465.0" y1="516.0" x2="465.5" y2="524.0" stroke="#161616" stroke-width="1.35" />
<rect x="457.9" y="524.5" width="6.4" height="171" fill="#161616"/>
<line x1="458.7" y1="526.5" x2="463.5" y2="525.5" stroke="#a8a8a8" stroke-width="0.7" stroke-linecap="butt"/>
<line x1="458.7" y1="529.0" x2="463.5" y2="528.0" stroke="#a8a8a8" stroke-width="0.7" stroke-linecap="butt"/>
<line x1="458.7" y1="531.4" x2="463.5" y2="530.4" stroke="#a8a8a8" stroke-width="0.7" stroke-linecap="butt"/>
<line x1="458.7" y1="533.9" x2="463.5" y2="532.9" stroke="#a8a8a8" stroke-width="0.7" stroke-linecap="butt"/>
<line x1="458.7" y1="536.3" x2="463.5" y2="535.3" stroke="#a8a8a8" stroke-width="0.7" stroke-linecap="butt"/>
<line x1="458.7" y1="538.8" x2="463.5" y2="537.8" stroke="#a8a8a8" stroke-width="0.7" stroke-linecap="butt"/>
<line x1="458.7" y1="541.2" x2="463.5" y2="540.2" stroke="#a8a8a8" stroke-width="0.7" stroke-linecap="butt"/>
<line x1="458.7" y1="543.6" x2="463.5" y2="542.6" stroke="#a8a8a8" stroke-width="0.7" stroke-linecap="butt"/>
<line x1="458.7" y1="546.1" x2="463.5" y2="545.1" stroke="#a8a8a8" stroke-width="0.7" stroke-linecap="butt"/>
<line x1="458.7" y1="548.5" x2="463.5" y2="547.5" stroke="#a8a8a8" stroke-width="0.7" stroke-linecap="butt"/>
<line x1="458.7" y1="551.0" x2="463.5" y2="550.0" stroke="#a8a8a8" stroke-width="0.7" stroke-linecap="butt"/>
<line x1="458.7" y1="553.5" x2="463.5" y2="552.5" stroke="#a8a8a8" stroke-width="0.7" stroke-linecap="butt"/>
<line x1="458.7" y1="555.9" x2="463.5" y2="554.9" stroke="#a8a8a8" stroke-width="0.7" stroke-linecap="butt"/>
<line x1="458.7" y1="558.4" x2="463.5" y2="557.4" stroke="#a8a8a8" stroke-width="0.7" stroke-linecap="butt"/>
<line x1="458.7" y1="560.8" x2="463.5" y2="559.8" stroke="#a8a8a8" stroke-width="0.7" stroke-linecap="butt"/>
<line x1="458.7" y1="563.2" x2="463.5" y2="562.2" stroke="#a8a8a8" stroke-width="0.7" stroke-linecap="butt"/>
<line x1="458.7" y1="565.7" x2="463.5" y2="564.7" stroke="#a8a8a8" stroke-width="0.7" stroke-linecap="butt"/>
<line x1="458.7" y1="568.1" x2="463.5" y2="567.1" stroke="#a8a8a8" stroke-width="0.7" stroke-linecap="butt"/>
<line x1="458.7" y1="570.6" x2="463.5" y2="569.6" stroke="#a8a8a8" stroke-width="0.7" stroke-linecap="butt"/>
<line x1="458.7" y1="573.0" x2="463.5" y2="572.0" stroke="#a8a8a8" stroke-width="0.7" stroke-linecap="butt"/>
<line x1="458.7" y1="575.5" x2="463.5" y2="574.5" stroke="#a8a8a8" stroke-width="0.7" stroke-linecap="butt"/>
<line x1="458.7" y1="578.0" x2="463.5" y2="577.0" stroke="#a8a8a8" stroke-width="0.7" stroke-linecap="butt"/>
<line x1="458.7" y1="580.4" x2="463.5" y2="579.4" stroke="#a8a8a8" stroke-width="0.7" stroke-linecap="butt"/>
<line x1="458.7" y1="582.9" x2="463.5" y2="581.9" stroke="#a8a8a8" stroke-width="0.7" stroke-linecap="butt"/>
<line x1="458.7" y1="585.3" x2="463.5" y2="584.3" stroke="#a8a8a8" stroke-width="0.7" stroke-linecap="butt"/>
<line x1="458.7" y1="587.8" x2="463.5" y2="586.8" stroke="#a8a8a8" stroke-width="0.7" stroke-linecap="butt"/>
<line x1="458.7" y1="590.2" x2="463.5" y2="589.2" stroke="#a8a8a8" stroke-width="0.7" stroke-linecap="butt"/>
<line x1="458.7" y1="592.6" x2="463.5" y2="591.6" stroke="#a8a8a8" stroke-width="0.7" stroke-linecap="butt"/>
<line x1="458.7" y1="595.1" x2="463.5" y2="594.1" stroke="#a8a8a8" stroke-width="0.7" stroke-linecap="butt"/>
<line x1="458.7" y1="597.5" x2="463.5" y2="596.5" stroke="#a8a8a8" stroke-width="0.7" stroke-linecap="butt"/>
<line x1="458.7" y1="600.0" x2="463.5" y2="599.0" stroke="#a8a8a8" stroke-width="0.7" stroke-linecap="butt"/>
<line x1="458.7" y1="602.5" x2="463.5" y2="601.5" stroke="#a8a8a8" stroke-width="0.7" stroke-linecap="butt"/>
<line x1="458.7" y1="604.9" x2="463.5" y2="603.9" stroke="#a8a8a8" stroke-width="0.7" stroke-linecap="butt"/>
<line x1="458.7" y1="607.4" x2="463.5" y2="606.4" stroke="#a8a8a8" stroke-width="0.7" stroke-linecap="butt"/>
<line x1="458.7" y1="609.8" x2="463.5" y2="608.8" stroke="#a8a8a8" stroke-width="0.7" stroke-linecap="butt"/>
<line x1="458.7" y1="612.2" x2="463.5" y2="611.2" stroke="#a8a8a8" stroke-width="0.7" stroke-linecap="butt"/>
<line x1="458.7" y1="614.7" x2="463.5" y2="613.7" stroke="#a8a8a8" stroke-width="0.7" stroke-linecap="butt"/>
<line x1="458.7" y1="617.1" x2="463.5" y2="616.1" stroke="#a8a8a8" stroke-width="0.7" stroke-linecap="butt"/>
<line x1="458.7" y1="619.6" x2="463.5" y2="618.6" stroke="#a8a8a8" stroke-width="0.7" stroke-linecap="butt"/>
<line x1="458.7" y1="622.0" x2="463.5" y2="621.0" stroke="#a8a8a8" stroke-width="0.7" stroke-linecap="butt"/>
<line x1="458.7" y1="624.5" x2="463.5" y2="623.5" stroke="#a8a8a8" stroke-width="0.7" stroke-linecap="butt"/>
<line x1="458.7" y1="627.0" x2="463.5" y2="626.0" stroke="#a8a8a8" stroke-width="0.7" stroke-linecap="butt"/>
<line x1="458.7" y1="629.4" x2="463.5" y2="628.4" stroke="#a8a8a8" stroke-width="0.7" stroke-linecap="butt"/>
<line x1="458.7" y1="631.9" x2="463.5" y2="630.9" stroke="#a8a8a8" stroke-width="0.7" stroke-linecap="butt"/>
<line x1="458.7" y1="634.3" x2="463.5" y2="633.3" stroke="#a8a8a8" stroke-width="0.7" stroke-linecap="butt"/>
<line x1="458.7" y1="636.8" x2="463.5" y2="635.8" stroke="#a8a8a8" stroke-width="0.7" stroke-linecap="butt"/>
<line x1="458.7" y1="639.2" x2="463.5" y2="638.2" stroke="#a8a8a8" stroke-width="0.7" stroke-linecap="butt"/>
<line x1="458.7" y1="641.6" x2="463.5" y2="640.6" stroke="#a8a8a8" stroke-width="0.7" stroke-linecap="butt"/>
<line x1="458.7" y1="644.1" x2="463.5" y2="643.1" stroke="#a8a8a8" stroke-width="0.7" stroke-linecap="butt"/>
<line x1="458.7" y1="646.5" x2="463.5" y2="645.5" stroke="#a8a8a8" stroke-width="0.7" stroke-linecap="butt"/>
<line x1="458.7" y1="649.0" x2="463.5" y2="648.0" stroke="#a8a8a8" stroke-width="0.7" stroke-linecap="butt"/>
<line x1="458.7" y1="651.5" x2="463.5" y2="650.5" stroke="#a8a8a8" stroke-width="0.7" stroke-linecap="butt"/>
<line x1="458.7" y1="653.9" x2="463.5" y2="652.9" stroke="#a8a8a8" stroke-width="0.7" stroke-linecap="butt"/>
<line x1="458.7" y1="656.4" x2="463.5" y2="655.4" stroke="#a8a8a8" stroke-width="0.7" stroke-linecap="butt"/>
<line x1="458.7" y1="658.8" x2="463.5" y2="657.8" stroke="#a8a8a8" stroke-width="0.7" stroke-linecap="butt"/>
<line x1="458.7" y1="661.2" x2="463.5" y2="660.2" stroke="#a8a8a8" stroke-width="0.7" stroke-linecap="butt"/>
<line x1="458.7" y1="663.7" x2="463.5" y2="662.7" stroke="#a8a8a8" stroke-width="0.7" stroke-linecap="butt"/>
<line x1="458.7" y1="666.1" x2="463.5" y2="665.1" stroke="#a8a8a8" stroke-width="0.7" stroke-linecap="butt"/>
<line x1="458.7" y1="668.6" x2="463.5" y2="667.6" stroke="#a8a8a8" stroke-width="0.7" stroke-linecap="butt"/>
<line x1="458.7" y1="671.0" x2="463.5" y2="670.0" stroke="#a8a8a8" stroke-width="0.7" stroke-linecap="butt"/>
<line x1="458.7" y1="673.5" x2="463.5" y2="672.5" stroke="#a8a8a8" stroke-width="0.7" stroke-linecap="butt"/>
<line x1="458.7" y1="676.0" x2="463.5" y2="675.0" stroke="#a8a8a8" stroke-width="0.7" stroke-linecap="butt"/>
<line x1="458.7" y1="678.4" x2="463.5" y2="677.4" stroke="#a8a8a8" stroke-width="0.7" stroke-linecap="butt"/>
<line x1="458.7" y1="680.9" x2="463.5" y2="679.9" stroke="#a8a8a8" stroke-width="0.7" stroke-linecap="butt"/>
<line x1="458.7" y1="683.3" x2="463.5" y2="682.3" stroke="#a8a8a8" stroke-width="0.7" stroke-linecap="butt"/>
<line x1="458.7" y1="685.8" x2="463.5" y2="684.8" stroke="#a8a8a8" stroke-width="0.7" stroke-linecap="butt"/>
<line x1="458.7" y1="688.2" x2="463.5" y2="687.2" stroke="#a8a8a8" stroke-width="0.7" stroke-linecap="butt"/>
<line x1="458.7" y1="690.6" x2="463.5" y2="689.6" stroke="#a8a8a8" stroke-width="0.7" stroke-linecap="butt"/>
<line x1="458.7" y1="693.1" x2="463.5" y2="692.1" stroke="#a8a8a8" stroke-width="0.7" stroke-linecap="butt"/>
<line x1="458.7" y1="695.5" x2="463.5" y2="694.5" stroke="#a8a8a8" stroke-width="0.7" stroke-linecap="butt"/>
<path d="M464.5,541.2 L471.8,541.2 L471.8,713.2 L450.3,713.2 L450.3,541.2 L457.8,541.2" stroke="#161616" stroke-width="1.2" fill="none" />
<line x1="460.6" y1="695.0" x2="460.6" y2="847.5" stroke="#161616" stroke-width="1.25" />
<path d="M464.0,520.0 C464.7,521.0 467.1,523.5 468.0,526.0 C468.9,528.5 469.0,531.8 469.5,535.0 C470.0,538.2 470.7,541.8 471.0,545.0 C471.3,548.2 471.4,552.5 471.5,554.0" stroke="#161616" stroke-width="1.2" fill="none" />
<path d="M465.0,521.5 C465.3,522.9 466.7,526.9 467.0,530.0 C467.3,533.1 467.0,536.7 466.9,540.0 C466.8,543.3 466.6,547.3 466.6,550.0 C466.6,552.7 466.8,555.0 466.8,556.0" stroke="#161616" stroke-width="1.2" fill="none" />
<path d="M469.5,560.0 C469.2,561.7 468.5,566.7 468.0,570.0 C467.5,573.3 466.8,576.7 466.4,580.0 C466.0,583.3 465.7,586.7 465.6,590.0 C465.5,593.3 465.9,595.8 466.0,600.0 C466.1,604.2 466.4,610.0 466.5,615.0 C466.6,620.0 466.7,625.0 466.5,630.0 C466.3,635.0 465.6,640.0 465.2,645.0 C464.8,650.0 464.6,654.2 464.4,660.0 C464.2,665.8 464.2,674.2 464.2,680.0 C464.2,685.8 464.5,692.5 464.6,695.0" stroke="#161616" stroke-width="1.2" fill="none" />
<path d="M471.5,560.0 C471.2,562.5 470.3,570.0 469.6,575.0 C468.9,580.0 468.0,585.8 467.4,590.0 C466.8,594.2 466.4,598.3 466.2,600.0" stroke="#161616" stroke-width="1.2" fill="none" />
<path d="M458.5,625.0 C457.9,626.7 455.9,631.7 455.0,635.0 C454.1,638.3 453.6,640.8 453.0,645.0 C452.4,649.2 451.9,655.0 451.6,660.0 C451.3,665.0 451.1,670.0 451.2,675.0 C451.3,680.0 451.6,685.8 452.0,690.0 C452.4,694.2 453.2,698.3 453.5,700.0" stroke="#161616" stroke-width="1.2" fill="none" />
<ellipse cx="469.6" cy="556.8" rx="3.4" ry="3.4" stroke="#161616" stroke-width="1.35" fill="none"/>
<line x1="473.0" y1="553.6" x2="561.0" y2="509.1" stroke="#161616" stroke-width="1.35" />
<line x1="473.6" y1="559.2" x2="563.1" y2="514.7" stroke="#161616" stroke-width="1.35" />
<line x1="450.1" y1="562.6" x2="427.9" y2="574.6" stroke="#161616" stroke-width="1.35" />
<line x1="450.1" y1="569.8" x2="425.8" y2="581.8" stroke="#161616" stroke-width="1.35" />
<line x1="447.4" y1="564.2" x2="449.4" y2="569.6" stroke="#161616" stroke-width="1.35" />
<ellipse cx="452.5" cy="601.3" rx="2.9" ry="2.9" stroke="#161616" stroke-width="1.35" fill="none"/>
<line x1="450.4" y1="597.4" x2="425.2" y2="583.0" stroke="#161616" stroke-width="1.35" />
<line x1="450.4" y1="603.4" x2="422.8" y2="589.0" stroke="#161616" stroke-width="1.35" />
<line x1="450.4" y1="646.6" x2="441.6" y2="646.6" stroke="#161616" stroke-width="1.35" />
<line x1="441.6" y1="646.6" x2="441.6" y2="653.8" stroke="#161616" stroke-width="1.35" />
<line x1="441.6" y1="653.8" x2="450.4" y2="653.8" stroke="#161616" stroke-width="1.35" />
<line x1="441.6" y1="647.8" x2="269.7" y2="638.1" stroke="#161616" stroke-width="1.35" />
<line x1="441.6" y1="652.6" x2="269.7" y2="644.1" stroke="#161616" stroke-width="1.35" />
<line x1="269.7" y1="637.1" x2="263.5" y2="637.1" stroke="#161616" stroke-width="1.35" />
<line x1="263.5" y1="637.1" x2="263.5" y2="645.5" stroke="#161616" stroke-width="1.35" />
<line x1="263.5" y1="645.5" x2="269.7" y2="645.5" stroke="#161616" stroke-width="1.35" />
<line x1="269.7" y1="645.5" x2="269.7" y2="637.1" stroke="#161616" stroke-width="1.35" />
<path d="M450.4,694.6 L444,694.6 Q441.8,694.8 441.8,698.8 Q441.8,702.8 444,703 L450.4,703" stroke="#161616" stroke-width="1.35" fill="none" />
<line x1="442.0" y1="695.8" x2="379.6" y2="700.1" stroke="#161616" stroke-width="1.35" />
<line x1="442.0" y1="701.8" x2="379.6" y2="706.0" stroke="#161616" stroke-width="1.35" />
<line x1="379.6" y1="699.7" x2="373.0" y2="699.9" stroke="#161616" stroke-width="1.35" />
<line x1="373.0" y1="699.9" x2="373.0" y2="706.6" stroke="#161616" stroke-width="1.35" />
<line x1="373.0" y1="706.6" x2="379.6" y2="706.7" stroke="#161616" stroke-width="1.35" />
<line x1="379.6" y1="706.7" x2="379.6" y2="699.7" stroke="#161616" stroke-width="1.35" />
<path d="M471.7,691 L476.6,691 Q479.3,691.2 479.3,695.2 Q479.3,699.2 476.6,699.4 L469.6,699.4 Q467.4,699 468.4,695 Q469,691.4 471.7,691" stroke="#161616" stroke-width="1.35" fill="none" />
<ellipse cx="472.6" cy="695.6" rx="1.4" ry="1.4" stroke="#161616" stroke-width="1.35" fill="none"/>
<line x1="479.3" y1="692.2" x2="636.8" y2="673.2" stroke="#161616" stroke-width="1.35" />
<line x1="479.3" y1="698.2" x2="636.8" y2="678.0" stroke="#161616" stroke-width="1.35" />
<line x1="471.8" y1="647.8" x2="479.4" y2="647.8" stroke="#161616" stroke-width="1.35" />
<line x1="479.4" y1="647.8" x2="479.4" y2="655.0" stroke="#161616" stroke-width="1.35" />
<line x1="479.4" y1="655.0" x2="471.8" y2="655.0" stroke="#161616" stroke-width="1.35" />
<line x1="479.4" y1="649.6" x2="556.0" y2="653.2" stroke="#161616" stroke-width="1.35" />
<line x1="479.4" y1="654.4" x2="555.0" y2="658.6" stroke="#161616" stroke-width="1.35" />
<path d="M475.0,650.2 L476.4,650.2 L476.4,651.8 L475.0,651.8 Z" stroke="#161616" stroke-width="0.8" fill="none" />
<line x1="471.8" y1="609.4" x2="529.2" y2="643.6" stroke="#161616" stroke-width="1.35" />
<line x1="471.8" y1="616.0" x2="525.8" y2="648.6" stroke="#161616" stroke-width="1.35" />
<path d="M475.4,651.4 L694,486.8 C692.5,484 691,480 690.2,476 A60.4,35.8 0 1 1 731,507.6 C727,506.8 724,505.8 722,504.9 Z" stroke="#161616" stroke-width="1.35" fill="none" />
<path d="M785.5,454.5 L742.4,454.5 L742.0,461.5" stroke="#111" stroke-width="2.7" fill="none" />
<line x1="742.0" y1="461.5" x2="742.0" y2="500.4" stroke="#161616" stroke-width="1.35" />
<rect x="740.3" y="474.8" width="3.4" height="3.6" fill="#111"/>
<path d="M745,487.6 A7.6,2.8 0 1 0 748.6,491.6" stroke="#161616" stroke-width="1.35" fill="none" />
<path d="M749.8,490.2 L748.6,491.8 L747.0,490.6" stroke="#161616" stroke-width="0.8" fill="none" />
<text transform="translate(797.09,414.90) scale(0.1385,0.1530)" font-size="100" font-weight="normal" font-style="normal" style="font-family:&quot;Liberation Serif&quot;,serif" fill="#1c1c1c" >14</text>
<text transform="translate(797.07,430.90) scale(0.1416,0.1530)" font-size="100" font-weight="normal" font-style="normal" style="font-family:&quot;Liberation Serif&quot;,serif" fill="#1c1c1c" >15</text>
<line x1="794.5" y1="410.5" x2="767.6" y2="410.5" stroke="#161616" stroke-width="1.35" />
<line x1="767.6" y1="410.5" x2="742.0" y2="476.4" stroke="#161616" stroke-width="1.35" />
<line x1="794.5" y1="427.9" x2="778.8" y2="427.9" stroke="#161616" stroke-width="1.35" />
<line x1="778.8" y1="427.9" x2="769.2" y2="453.4" stroke="#161616" stroke-width="1.35" />
<ellipse cx="605.8" cy="490.8" rx="46.6" ry="46.6" stroke="#161616" stroke-width="1.35" fill="none"/>
<path d="M620.9,483.2 Q616.4,459.3 596.6,445.1" stroke="#161616" stroke-width="1.35" fill="none" />
<path d="M620.9,483.2 Q628.1,464.9 620.8,446.7" stroke="#161616" stroke-width="1.35" fill="none" />
<path d="M620.9,483.2 Q634.6,473.4 637.7,456.8" stroke="#161616" stroke-width="1.35" fill="none" />
<path d="M620.9,483.2 Q636.9,482.1 647.7,470.3" stroke="#161616" stroke-width="1.35" fill="none" />
<path d="M620.9,483.2 Q635.8,491.5 652.3,487.3" stroke="#161616" stroke-width="1.35" fill="none" />
<path d="M620.9,483.2 Q630.6,500.7 649.6,506.7" stroke="#161616" stroke-width="1.35" fill="none" />
<path d="M620.9,483.2 Q622.2,506.8 639.4,523.1" stroke="#161616" stroke-width="1.35" fill="none" />
<path d="M620.9,483.2 Q610.5,509.0 620.7,534.9" stroke="#161616" stroke-width="1.35" fill="none" />
<path d="M620.9,483.2 Q600.4,506.3 601.5,537.2" stroke="#161616" stroke-width="1.35" fill="none" />
<path d="M620.9,483.2 Q590.9,497.9 579.3,529.1" stroke="#161616" stroke-width="1.35" fill="none" />
<path d="M620.9,483.2 Q587.0,487.8 565.7,514.5" stroke="#161616" stroke-width="1.35" fill="none" />
<path d="M620.9,483.2 Q587.4,478.4 559.8,498.1" stroke="#161616" stroke-width="1.35" fill="none" />
<path d="M620.9,483.2 Q591.3,469.6 560.4,480.1" stroke="#161616" stroke-width="1.35" fill="none" />
<path d="M620.9,483.2 Q600.9,461.4 571.4,459.4" stroke="#161616" stroke-width="1.35" fill="none" />
<path d="M356.3,597.6 A33.5,33.5 0 1 0 422.6,591.2" stroke="#161616" stroke-width="1.35" fill="none" />
<path d="M358.5,604.8 Q368.4,604.6 378.3,608.4" stroke="#161616" stroke-width="1.35" fill="none" />
<path d="M361.7,612.4 Q379.2,613.2 390.9,608.8" stroke="#161616" stroke-width="1.35" fill="none" />
<path d="M366.6,618.7 Q384.5,618.2 390.9,608.8" stroke="#161616" stroke-width="1.35" fill="none" />
<path d="M378.3,627.3 Q397.3,621 402.6,606.1" stroke="#161616" stroke-width="1.35" fill="none" />
<path d="M400.8,626.8 Q412.2,615.1 411.6,600.7" stroke="#161616" stroke-width="1.35" fill="none" />
<path d="M411.6,622.3 Q419.4,610.6 417.9,596.2" stroke="#161616" stroke-width="1.35" fill="none" />
<ellipse cx="385.2" cy="565.0" rx="43.2" ry="43.2" stroke="#161616" stroke-width="1.35" fill="none"/>
<path d="M365.5,560.5 Q351.3,552.0 353.6,535.6" stroke="#161616" stroke-width="1.35" fill="none" />
<path d="M365.5,560.5 Q358.5,538.0 376.4,522.7" stroke="#161616" stroke-width="1.35" fill="none" />
<path d="M365.5,560.5 Q365.8,532.9 391.3,522.2" stroke="#161616" stroke-width="1.35" fill="none" />
<path d="M365.5,560.5 Q376.2,530.4 408.1,528.4" stroke="#161616" stroke-width="1.35" fill="none" />
<path d="M365.5,560.5 Q389.3,533.5 423.4,544.8" stroke="#161616" stroke-width="1.35" fill="none" />
<path d="M365.5,560.5 Q397.4,540.5 428.3,562.0" stroke="#161616" stroke-width="1.35" fill="none" />
<path d="M365.5,560.5 Q401.9,549.8 426.1,579.0" stroke="#161616" stroke-width="1.35" fill="none" />
<path d="M365.5,560.5 Q402.7,557.3 420.3,590.2" stroke="#161616" stroke-width="1.35" fill="none" />
<path d="M365.5,560.5 Q400.8,566.1 409.5,600.7" stroke="#161616" stroke-width="1.35" fill="none" />
<path d="M365.5,560.5 Q394.9,574.8 393.3,607.4" stroke="#161616" stroke-width="1.35" fill="none" />
<path d="M365.5,560.5 Q385.3,580.7 374.5,606.9" stroke="#161616" stroke-width="1.35" fill="none" />
<path d="M365.5,560.5 Q373.0,581.8 356.3,597.2" stroke="#161616" stroke-width="1.35" fill="none" />
<path d="M365.5,560.5 Q363.9,578.7 346.6,584.4" stroke="#161616" stroke-width="1.35" fill="none" />
<path d="M365.5,560.5 Q356.7,572.5 342.2,569.1" stroke="#161616" stroke-width="1.35" fill="none" />
<path d="M365.5,560.5 Q352.3,564.6 343.4,554.1" stroke="#161616" stroke-width="1.35" fill="none" />
<ellipse cx="226.2" cy="638.5" rx="36.5" ry="36.5" stroke="#161616" stroke-width="1.35" fill="none"/>
<ellipse cx="255.6" cy="640.3" rx="2.4" ry="22.0" stroke="#161616" stroke-width="1.35" fill="none" transform="rotate(5 255.6 640.3)"/>
<path d="M190.0,635.0 C190.6,633.5 191.6,629.4 193.7,625.8 C195.8,622.2 199.2,616.5 202.8,613.2 C206.4,609.9 211.0,607.2 215.2,605.8 C219.4,604.4 223.9,604.4 228.0,605.0 C232.1,605.6 236.0,607.5 239.6,609.6 C243.2,611.7 246.6,615.4 249.4,617.4 C252.2,619.4 255.3,620.7 256.5,621.4" stroke="#161616" stroke-width="1.35" fill="none" />
<path d="M190.0,635.0 C191.7,631.7 196.2,619.8 200.0,615.0 C203.8,610.2 208.8,607.9 213.0,606.5 C217.2,605.1 221.2,605.5 225.0,606.5 C228.8,607.5 232.8,610.1 236.0,612.5 C239.2,614.9 241.7,618.8 244.0,621.0 C246.3,623.2 248.0,624.5 250.0,625.5 C252.0,626.5 255.2,626.6 256.2,626.8" stroke="#161616" stroke-width="1.35" fill="none" />
<path d="M190.0,635.0 C191.7,632.5 196.7,623.6 200.0,620.0 C203.3,616.4 206.7,614.6 210.0,613.2 C213.3,611.8 217.0,611.5 220.0,611.8 C223.0,612.1 225.3,613.3 228.0,615.2 C230.7,617.1 233.3,620.9 236.0,623.2 C238.7,625.5 241.7,627.7 244.0,629.0 C246.3,630.3 248.0,630.7 250.0,631.2 C252.0,631.7 255.0,631.7 256.0,631.8" stroke="#161616" stroke-width="1.35" fill="none" />
<path d="M190.0,635.0 C191.7,633.3 196.7,627.3 200.0,625.0 C203.3,622.7 207.2,621.6 210.0,621.0 C212.8,620.4 214.5,620.5 217.0,621.2 C219.5,621.9 222.0,623.2 225.0,625.2 C228.0,627.2 231.7,631.1 235.0,633.2 C238.3,635.3 241.6,637.0 245.0,638.0 C248.4,639.0 253.8,638.8 255.5,639.0" stroke="#161616" stroke-width="1.35" fill="none" />
<path d="M190.0,635.0 C191.7,634.2 196.8,631.5 200.0,630.5 C203.2,629.5 206.5,629.1 209.0,629.2 C211.5,629.3 212.7,629.7 215.0,631.2 C217.3,632.7 220.2,635.9 223.0,638.0 C225.8,640.1 228.8,642.5 232.0,644.0 C235.2,645.5 238.2,646.7 242.0,647.0 C245.8,647.3 252.8,646.2 255.0,646.0" stroke="#161616" stroke-width="1.35" fill="none" />
<path d="M190.0,635.0 C191.2,635.0 194.5,634.8 197.0,635.2 C199.5,635.6 202.5,635.9 205.0,637.2 C207.5,638.5 209.5,640.9 212.0,643.0 C214.5,645.1 217.0,648.2 220.0,650.0 C223.0,651.8 226.7,653.2 230.0,654.0 C233.3,654.8 235.9,655.3 240.0,655.0 C244.1,654.7 252.1,652.7 254.5,652.2" stroke="#161616" stroke-width="1.35" fill="none" />
<path d="M190.0,635.0 C191.3,635.9 195.5,638.2 198.0,640.2 C200.5,642.2 202.5,644.6 205.0,647.2 C207.5,649.8 210.2,653.7 213.0,656.0 C215.8,658.3 218.8,659.8 222.0,661.0 C225.2,662.2 228.7,662.8 232.0,663.0 C235.3,663.2 238.3,662.8 242.0,662.0 C245.7,661.2 252.0,658.7 254.0,658.0" stroke="#161616" stroke-width="1.35" fill="none" />
<path d="M190.0,635.0 C190.8,636.4 193.0,640.0 195.0,643.2 C197.0,646.4 199.5,650.9 202.0,654.2 C204.5,657.5 207.0,660.7 210.0,663.2 C213.0,665.7 216.7,667.8 220.0,669.0 C223.3,670.2 226.7,670.2 230.0,670.2 C233.3,670.2 236.2,670.0 240.0,668.8 C243.8,667.6 250.8,664.0 253.0,663.0" stroke="#161616" stroke-width="1.35" fill="none" />
<path d="M190.0,635.0 C190.6,637.0 191.3,642.3 193.5,647.0 C195.7,651.7 198.9,658.8 203.0,663.0 C207.1,667.2 213.5,670.7 218.0,672.5 C222.5,674.3 226.0,674.2 230.0,674.0 C234.0,673.8 238.2,673.2 242.0,671.5 C245.8,669.8 251.0,665.2 252.8,664.0" stroke="#161616" stroke-width="1.35" fill="none" />
<ellipse cx="339.8" cy="704.5" rx="34.3" ry="34.3" stroke="#161616" stroke-width="1.35" fill="none"/>
<ellipse cx="363.0" cy="704.8" rx="10.9" ry="21.8" stroke="#161616" stroke-width="1.35" fill="none" transform="rotate(5 363.0 704.8)"/>
<ellipse cx="365.5" cy="696.0" rx="1.5" ry="2.6" stroke="#161616" stroke-width="1.0" fill="none" transform="rotate(-25 365.5 696.0)"/>
<ellipse cx="360.5" cy="704.0" rx="1.5" ry="2.6" stroke="#161616" stroke-width="1.0" fill="none" transform="rotate(-85 360.5 704.0)"/>
<ellipse cx="365.0" cy="713.6" rx="1.5" ry="2.6" stroke="#161616" stroke-width="1.0" fill="none" transform="rotate(25 365.0 713.6)"/>
<path d="M318.0,679.5 C320.8,678.5 329.7,674.2 335.0,673.2 C340.3,672.2 345.2,672.4 350.0,673.7 C354.8,675.0 361.2,680.0 363.5,681.2" stroke="#161616" stroke-width="1.35" fill="none" />
<path d="M312.0,687.5 C315.0,686.2 324.2,680.9 330.0,679.5 C335.8,678.1 342.0,678.3 347.0,679.0 C352.0,679.7 357.8,682.8 360.0,683.5" stroke="#161616" stroke-width="1.35" fill="none" />
<path d="M307.5,698.5 C309.6,697.2 315.4,692.8 320.0,691.0 C324.6,689.2 330.5,688.2 335.0,688.0 C339.5,687.8 343.8,688.8 347.0,689.5 C350.2,690.2 353.0,691.8 354.2,692.2" stroke="#161616" stroke-width="1.35" fill="none" />
<path d="M306.0,708.0 C307.8,706.8 313.0,702.7 317.0,701.0 C321.0,699.3 325.7,698.2 330.0,698.0 C334.3,697.8 339.3,698.7 343.0,699.5 C346.7,700.3 350.5,702.4 352.0,703.0" stroke="#161616" stroke-width="1.35" fill="none" />
<path d="M308.0,716.0 C309.7,715.2 314.3,712.3 318.0,711.0 C321.7,709.7 325.8,708.3 330.0,708.0 C334.2,707.7 339.3,708.3 343.0,709.0 C346.7,709.7 350.5,711.5 352.0,712.0" stroke="#161616" stroke-width="1.35" fill="none" />
<path d="M314.0,725.0 C315.5,724.0 319.5,720.8 323.0,719.0 C326.5,717.2 331.3,715.2 335.0,714.5 C338.7,713.8 341.8,714.3 345.0,715.0 C348.2,715.7 352.5,717.9 354.0,718.5" stroke="#161616" stroke-width="1.35" fill="none" />
<path d="M320.0,731.0 C321.5,730.0 325.7,726.7 329.0,725.0 C332.3,723.3 336.5,721.6 340.0,721.0 C343.5,720.4 347.2,721.0 350.0,721.5 C352.8,722.0 355.8,723.6 357.0,724.0" stroke="#161616" stroke-width="1.35" fill="none" />
<path d="M328.0,735.5 C329.5,734.6 333.8,731.7 337.0,730.0 C340.2,728.3 344.0,726.3 347.0,725.5 C350.0,724.7 352.8,724.9 355.0,725.0 C357.2,725.1 359.2,725.8 360.0,726.0" stroke="#161616" stroke-width="1.35" fill="none" />
<path d="M338.0,738.5 C339.2,737.7 342.5,735.1 345.0,733.5 C347.5,731.9 349.8,730.1 353.0,729.0 C356.2,727.9 362.2,727.3 364.0,727.0" stroke="#161616" stroke-width="1.35" fill="none" />
<ellipse cx="528.4" cy="646.8" rx="33.4" ry="38.6" stroke="#161616" stroke-width="1.35" fill="none"/>
<ellipse cx="528.8" cy="645.6" rx="16.8" ry="20.8" stroke="#161616" stroke-width="1.35" fill="none"/>
<ellipse cx="528.8" cy="646.8" rx="3.6" ry="3.6" stroke="#161616" stroke-width="1.7" fill="none"/>
<ellipse cx="528.8" cy="646.8" rx="1.2" ry="1.2" stroke="#161616" stroke-width="0.8" fill="none"/>
<ellipse cx="530.1" cy="635.2" rx="1.5" ry="2.6" stroke="#161616" stroke-width="1.0" fill="none" transform="rotate(10 530.1 635.2)"/>
<ellipse cx="537.3" cy="641.3" rx="1.5" ry="2.6" stroke="#161616" stroke-width="1.0" fill="none" transform="rotate(70 537.3 641.3)"/>
<ellipse cx="519.2" cy="647.2" rx="1.5" ry="2.6" stroke="#161616" stroke-width="1.0" fill="none" transform="rotate(80 519.2 647.2)"/>
<ellipse cx="536.8" cy="650.4" rx="1.5" ry="2.6" stroke="#161616" stroke-width="1.0" fill="none" transform="rotate(60 536.8 650.4)"/>
<path d="M545.6,645.6 Q555.1,652.3 552.8,673.1" stroke="#161616" stroke-width="1.35" fill="none" />
<path d="M544.1,654.1 Q550.6,664.3 541.5,682.3" stroke="#161616" stroke-width="1.35" fill="none" />
<path d="M540.0,661.1 Q542.3,673.1 527.8,685.4" stroke="#161616" stroke-width="1.35" fill="none" />
<path d="M534.0,665.4 Q531.7,677.3 514.3,681.8" stroke="#161616" stroke-width="1.35" fill="none" />
<path d="M527.0,666.3 Q520.5,676.0 503.2,672.1" stroke="#161616" stroke-width="1.35" fill="none" />
<path d="M520.4,663.6 Q510.7,669.6 496.5,658.1" stroke="#161616" stroke-width="1.35" fill="none" />
<path d="M515.2,657.8 Q504.0,659.1 495.2,642.1" stroke="#161616" stroke-width="1.35" fill="none" />
<path d="M512.4,649.9 Q501.6,646.3 499.8,626.9" stroke="#161616" stroke-width="1.35" fill="none" />
<path d="M512.4,641.3 Q503.8,633.5 509.2,615.2" stroke="#161616" stroke-width="1.35" fill="none" />
<path d="M515.2,633.4 Q510.3,622.8 522.0,608.9" stroke="#161616" stroke-width="1.35" fill="none" />
<path d="M520.4,627.6 Q520.0,616.1 535.9,609.2" stroke="#161616" stroke-width="1.35" fill="none" />
<path d="M527.0,624.9 Q531.2,614.6 548.5,616.0" stroke="#161616" stroke-width="1.35" fill="none" />
<path d="M534.0,625.8 Q541.9,618.6 557.6,628.1" stroke="#161616" stroke-width="1.35" fill="none" />
<path d="M540.0,630.1 Q550.3,627.2 561.7,643.4" stroke="#161616" stroke-width="1.35" fill="none" />
<path d="M544.1,637.1 Q555.0,639.2 560.0,659.3" stroke="#161616" stroke-width="1.35" fill="none" />
<ellipse cx="591.2" cy="657.8" rx="34.0" ry="34.0" stroke="#161616" stroke-width="1.35" fill="none"/>
<ellipse cx="568.0" cy="656.8" rx="10.4" ry="22.0" stroke="#161616" stroke-width="1.35" fill="none" transform="rotate(-1 568.0 656.8)"/>
<ellipse cx="565.3" cy="648.3" rx="1.9" ry="2.4" stroke="#161616" stroke-width="1.1" fill="none" transform="rotate(20 565.3 648.3)"/>
<ellipse cx="570.7" cy="656.9" rx="2.9" ry="1.4" stroke="#161616" stroke-width="1.1" fill="none"/>
<ellipse cx="565.5" cy="666.1" rx="1.9" ry="2.3" stroke="#161616" stroke-width="1.1" fill="none" transform="rotate(-25 565.5 666.1)"/>
<path d="M571.6,636.2 C574.0,635.5 581.2,632.6 586.0,632.1 C590.8,631.6 595.9,631.7 600.4,633.0 C604.9,634.3 609.3,637.3 613.0,639.8 C616.7,642.2 621.1,646.3 622.7,647.6" stroke="#161616" stroke-width="1.35" fill="none" />
<path d="M577.0,644.7 C578.8,644.2 583.9,642.0 587.8,641.6 C591.7,641.1 596.2,641.0 600.4,642.0 C604.6,643.0 609.1,645.2 613.0,647.4 C616.9,649.7 622.0,654.2 623.8,655.5" stroke="#161616" stroke-width="1.35" fill="none" />
<path d="M578.8,655.5 C580.8,654.9 586.3,652.4 590.5,651.9 C594.7,651.5 600.0,651.9 604.0,652.8 C608.1,653.7 611.4,655.5 614.8,657.3 C618.2,659.1 622.7,662.6 624.3,663.6" stroke="#161616" stroke-width="1.35" fill="none" />
<path d="M578.4,665.4 C580.4,664.8 586.2,662.3 590.5,661.8 C594.8,661.4 600.0,661.8 604.0,662.7 C608.1,663.6 611.8,665.6 614.8,667.2 C617.8,668.9 620.8,671.7 622.0,672.6" stroke="#161616" stroke-width="1.35" fill="none" />
<path d="M577.0,672.6 C578.8,671.9 583.9,669.2 587.8,668.6 C591.7,668.0 596.5,668.2 600.4,669.0 C604.3,669.8 608.2,671.8 611.2,673.5 C614.2,675.2 617.2,678.4 618.4,679.4" stroke="#161616" stroke-width="1.35" fill="none" />
<path d="M574.3,677.1 C576.0,676.6 580.8,674.4 584.2,674.0 C587.7,673.5 591.4,673.6 595.0,674.4 C598.6,675.2 602.8,677.3 605.8,678.9 C608.8,680.6 611.8,683.4 613.0,684.3" stroke="#161616" stroke-width="1.35" fill="none" />
<path d="M571.6,679.4 C573.3,679.1 578.1,677.9 581.5,678.0 C585.0,678.1 589.2,678.8 592.3,679.8 C595.5,680.9 598.3,682.8 600.4,684.3 C602.5,685.8 604.2,688.1 604.9,688.8" stroke="#161616" stroke-width="1.35" fill="none" />
<path d="M568.0,680.0 C569.5,680.2 574.0,680.4 577.0,681.2 C580.0,681.9 583.6,683.0 586.0,684.3 C588.4,685.6 590.3,687.6 591.4,688.8 C592.5,690.0 592.3,691.1 592.5,691.5" stroke="#161616" stroke-width="1.35" fill="none" />
<text transform="translate(576.84,612.00) scale(0.1444,0.1530)" font-size="100" font-weight="normal" font-style="normal" style="font-family:&quot;Liberation Serif&quot;,serif" fill="#1c1c1c" >16</text>
<line x1="574.6" y1="608.5" x2="558.4" y2="608.5" stroke="#161616" stroke-width="1.35" />
<line x1="558.4" y1="608.5" x2="544.0" y2="644.0" stroke="#161616" stroke-width="1.35" />
<text transform="translate(703.12,568.80) scale(0.1356,0.1530)" font-size="100" font-weight="normal" font-style="normal" style="font-family:&quot;Liberation Serif&quot;,serif" fill="#1c1c1c" >17</text>
<text transform="translate(703.09,586.00) scale(0.1393,0.1530)" font-size="100" font-weight="normal" font-style="normal" style="font-family:&quot;Liberation Serif&quot;,serif" fill="#1c1c1c" >18</text>
<text transform="translate(703.07,603.60) scale(0.1409,0.1530)" font-size="100" font-weight="normal" font-style="normal" style="font-family:&quot;Liberation Serif&quot;,serif" fill="#1c1c1c" >19</text>
<text transform="translate(702.20,621.20) scale(0.1505,0.1530)" font-size="100" font-weight="normal" font-style="normal" style="font-family:&quot;Liberation Serif&quot;,serif" fill="#1c1c1c" >20</text>
<line x1="699.4" y1="565.5" x2="652.8" y2="565.5" stroke="#161616" stroke-width="1.35" />
<line x1="652.8" y1="565.5" x2="629.6" y2="672.4" stroke="#161616" stroke-width="1.35" />
<line x1="699.4" y1="582.8" x2="659.2" y2="582.8" stroke="#161616" stroke-width="1.35" />
<line x1="659.2" y1="582.8" x2="642.4" y2="673.0" stroke="#161616" stroke-width="1.35" />
<line x1="699.4" y1="600.4" x2="660.0" y2="600.4" stroke="#161616" stroke-width="1.35" />
<line x1="660.0" y1="600.4" x2="648.0" y2="673.0" stroke="#161616" stroke-width="1.35" />
<line x1="699.4" y1="617.7" x2="683.2" y2="617.7" stroke="#161616" stroke-width="1.35" />
<line x1="683.2" y1="617.7" x2="670.4" y2="662.0" stroke="#161616" stroke-width="1.35" />
<line x1="636.8" y1="673.0" x2="636.8" y2="671.4" stroke="#161616" stroke-width="1.35" />
<line x1="636.8" y1="671.4" x2="641.6" y2="671.0" stroke="#161616" stroke-width="1.35" />
<line x1="641.6" y1="671.0" x2="641.8" y2="678.2" stroke="#161616" stroke-width="1.35" />
<line x1="641.8" y1="678.2" x2="636.8" y2="678.4" stroke="#161616" stroke-width="1.35" />
<line x1="636.8" y1="678.4" x2="636.8" y2="677.8" stroke="#161616" stroke-width="1.35" />
<rect x="642" y="670.2" width="3.2" height="7.8" fill="#222"/>
<line x1="645.8" y1="670.6" x2="651.8" y2="670.2" stroke="#161616" stroke-width="1.35" />
<line x1="651.8" y1="670.2" x2="652.2" y2="677.8" stroke="#161616" stroke-width="1.35" />
<line x1="652.2" y1="677.8" x2="646.2" y2="678.2" stroke="#161616" stroke-width="1.35" />
<line x1="646.2" y1="678.2" x2="645.8" y2="670.6" stroke="#161616" stroke-width="1.35" />
<path d="M651.8,642.0 C651.0,644.0 648.4,650.0 647.0,654.0 C645.6,658.0 644.2,662.4 643.4,666.0 C642.6,669.6 641.8,672.6 642.2,675.6 C642.6,678.6 644.1,681.2 645.8,684.0 C647.5,686.8 650.8,690.0 652.4,692.4 C654.0,694.8 654.6,696.4 655.4,698.4 C656.2,700.4 656.9,703.4 657.2,704.4" stroke="#161616" stroke-width="1.35" fill="none" />
<path d="M650.6,654.0 C650.0,655.4 647.8,659.8 647.0,662.4 C646.2,665.0 646.0,667.0 645.8,669.6 C645.6,672.2 645.4,675.2 645.8,678.0 C646.2,680.8 647.2,683.5 648.2,686.4 C649.2,689.3 651.2,693.9 651.8,695.4" stroke="#161616" stroke-width="1.35" fill="none" />
<line x1="653.0" y1="664.2" x2="673.4" y2="661.8" stroke="#161616" stroke-width="1.35" />
<line x1="673.4" y1="661.8" x2="675.8" y2="681.0" stroke="#161616" stroke-width="1.35" />
<line x1="675.8" y1="681.0" x2="655.4" y2="683.4" stroke="#161616" stroke-width="1.35" />
<line x1="655.4" y1="683.4" x2="653.0" y2="664.2" stroke="#161616" stroke-width="1.35" />
<line x1="653.2" y1="666.2" x2="651.8" y2="666.4" stroke="#161616" stroke-width="1.35" />
<line x1="651.8" y1="666.4" x2="653.4" y2="680.6" stroke="#161616" stroke-width="1.35" />
<line x1="653.4" y1="680.6" x2="655.0" y2="680.4" stroke="#161616" stroke-width="1.35" />
<path d="M684.4,665.2 C680.6,663.6 678.3,667 678.3,670.2 C678.3,673.6 680.8,677 685,675.4" stroke="#161616" stroke-width="1.35" fill="none" />
<path d="M685.2,666.8 C682.4,666 680.6,668 680.6,670.2 C680.6,672.6 682.6,674.6 685.4,673.8" stroke="#161616" stroke-width="1.0" fill="none" />
<path d="M701.4,663.6 C704,663.2 705,660.4 706.2,658.4 A12.7,12.7 0 1 1 707.2,678.2 C705.6,676 704.6,673.6 701.8,673.2" stroke="#161616" stroke-width="1.35" fill="none" />
<rect x="692.2" y="663.8" width="9.6" height="9.6" fill="#2a2a2a" transform="rotate(-4 697 668.6)"/>
<line x1="694.2" y1="664.2" x2="694.8" y2="673.4" stroke="#8a8a8a" stroke-width="0.5" stroke-linecap="butt"/>
<line x1="696.6" y1="664.2" x2="697.2" y2="673.4" stroke="#8a8a8a" stroke-width="0.5" stroke-linecap="butt"/>
<line x1="699.0" y1="664.2" x2="699.6" y2="673.4" stroke="#8a8a8a" stroke-width="0.5" stroke-linecap="butt"/>
<path d="M692.2,664.4 Q687.4,666 687.2,669.4 Q687.6,672.6 692.6,673.6" stroke="#161616" stroke-width="1.35" fill="none" />
<path d="M711.2,669.6 L714.8,672.0 L716.0,664.8 L720.8,661.8" stroke="#161616" stroke-width="1.3" fill="none" />
<line x1="653.0" y1="674.2" x2="675.0" y2="671.8" stroke="#161616" stroke-width="1.0" />
<line x1="701.6" y1="669.0" x2="823.4" y2="656.2" stroke="#161616" stroke-width="1.35" />
<line x1="793.5" y1="605.5" x2="762.0" y2="608.1" stroke="#161616" stroke-width="1.35" />
<line x1="754.3" y1="608.7" x2="762.4" y2="605.6" stroke="#161616" stroke-width="1.35" />
<line x1="762.4" y1="605.6" x2="762.8" y2="611.0" stroke="#161616" stroke-width="1.35" />
<line x1="762.8" y1="611.0" x2="754.3" y2="608.7" stroke="#161616" stroke-width="1.35" />
<text transform="translate(823.46,604.60) scale(0.1356,0.1530)" font-size="100" font-weight="normal" font-style="normal" style="font-family:&quot;Liberation Serif&quot;,serif" fill="#1c1c1c" >21</text>
<line x1="820.8" y1="601.7" x2="804.0" y2="601.7" stroke="#161616" stroke-width="1.35" />
<line x1="804.0" y1="601.7" x2="797.0" y2="628.4" stroke="#161616" stroke-width="1.35" />
<path d="M746.2,648 A36,36 0 1 1 749,680.2 Z" stroke="#161616" stroke-width="1.35" fill="none" />
<path d="M747.0,649.0 C748.3,648.7 752.7,648.5 755.0,647.0 C757.3,645.5 758.8,642.7 761.0,640.0 C763.2,637.3 765.2,633.3 768.0,631.0 C770.8,628.7 774.3,626.7 778.0,626.0 C781.7,625.3 785.8,625.5 790.0,627.0 C794.2,628.5 799.5,631.7 803.0,635.0 C806.5,638.3 809.0,643.5 811.0,647.0 C813.0,650.5 814.3,654.5 815.0,656.0" stroke="#161616" stroke-width="1.35" fill="none" />
<path d="M747.0,654.0 C748.7,653.5 754.0,653.0 757.0,651.0 C760.0,649.0 762.3,645.0 765.0,642.0 C767.7,639.0 770.0,635.2 773.0,633.0 C776.0,630.8 779.7,629.0 783.0,628.5 C786.3,628.0 789.5,628.4 793.0,630.0 C796.5,631.6 800.8,634.8 804.0,638.0 C807.2,641.2 810.2,646.0 812.0,649.0 C813.8,652.0 814.5,654.8 815.0,656.0" stroke="#161616" stroke-width="1.35" fill="none" />
<path d="M747.5,659.0 C749.6,658.5 756.4,658.0 760.0,656.0 C763.6,654.0 766.2,650.0 769.0,647.0 C771.8,644.0 774.0,640.2 777.0,638.0 C780.0,635.8 783.7,633.8 787.0,633.5 C790.3,633.2 793.7,634.1 797.0,636.0 C800.3,637.9 804.0,641.7 807.0,645.0 C810.0,648.3 813.7,654.2 815.0,656.0" stroke="#161616" stroke-width="1.35" fill="none" />
<path d="M748.0,664.0 C750.5,663.5 758.8,662.8 763.0,661.0 C767.2,659.2 769.7,655.7 773.0,653.0 C776.3,650.3 779.8,646.8 783.0,645.0 C786.2,643.2 789.0,642.5 792.0,642.5 C795.0,642.5 798.0,643.4 801.0,645.0 C804.0,646.6 807.7,650.2 810.0,652.0 C812.3,653.8 814.2,655.3 815.0,656.0" stroke="#161616" stroke-width="1.35" fill="none" />
<path d="M748.5,669.0 C751.2,669.0 760.2,670.0 765.0,669.0 C769.8,668.0 773.3,665.5 777.0,663.0 C780.7,660.5 784.0,656.1 787.0,654.0 C790.0,651.9 792.2,650.8 795.0,650.5 C797.8,650.2 800.7,651.1 804.0,652.0 C807.3,652.9 813.2,655.3 815.0,656.0" stroke="#161616" stroke-width="1.35" fill="none" />
<path d="M749.0,674.0 C751.7,674.3 759.8,676.3 765.0,676.0 C770.2,675.7 775.7,674.2 780.0,672.0 C784.3,669.8 787.7,665.5 791.0,663.0 C794.3,660.5 797.3,658.2 800.0,657.0 C802.7,655.8 804.5,655.7 807.0,655.5 C809.5,655.3 813.7,655.9 815.0,656.0" stroke="#161616" stroke-width="1.35" fill="none" />
<path d="M750.0,680.0 C752.5,680.7 760.0,683.5 765.0,684.0 C770.0,684.5 775.5,684.3 780.0,683.0 C784.5,681.7 788.2,679.0 792.0,676.0 C795.8,673.0 799.2,668.3 803.0,665.0 C806.8,661.7 813.0,657.5 815.0,656.0" stroke="#161616" stroke-width="1.35" fill="none" />
<path d="M755.0,685.0 C757.5,686.2 765.0,691.0 770.0,692.0 C775.0,693.0 780.5,692.5 785.0,691.0 C789.5,689.5 793.3,686.3 797.0,683.0 C800.7,679.7 804.0,675.5 807.0,671.0 C810.0,666.5 813.7,658.5 815.0,656.0" stroke="#161616" stroke-width="1.35" fill="none" />
<path d="M768.0,694.0 C770.5,694.3 778.5,696.3 783.0,696.0 C787.5,695.7 791.3,694.2 795.0,692.0 C798.7,689.8 802.2,686.5 805.0,683.0 C807.8,679.5 810.3,675.4 812.0,671.0 C813.7,666.6 814.8,658.9 815.3,656.5" stroke="#161616" stroke-width="1.35" fill="none" />
<path d="M451.6,697.6 C452.0,698.8 452.6,701.8 454.0,704.8 C455.4,707.8 457.8,711.6 460.0,715.6 C462.2,719.6 464.9,724.4 467.2,728.8 C469.5,733.2 472.7,739.8 473.8,742.0" stroke="#161616" stroke-width="1.35" fill="none" />
<path d="M453.6,698.8 C454.3,700.0 455.9,703.0 457.6,706.0 C459.3,709.0 461.4,712.8 463.6,716.8 C465.8,720.8 468.6,726.0 470.8,730.0 C473.0,734.0 475.8,738.8 476.8,740.6" stroke="#161616" stroke-width="1.35" fill="none" />
<path d="M464.8,694.0 C464.6,695.6 463.4,700.2 463.4,703.6 C463.4,707.0 463.6,711.0 464.8,714.4 C466.0,717.8 468.6,721.0 470.8,724.0 C473.0,727.0 476.0,730.1 478.0,732.4 C480.0,734.7 482.0,736.9 482.8,737.8" stroke="#161616" stroke-width="1.35" fill="none" />
<path d="M469.4,700.0 C468.9,701.0 467.0,703.6 466.6,706.0 C466.2,708.4 465.6,711.6 466.7,714.4 C467.8,717.2 470.9,720.1 473.2,722.8 C475.5,725.5 478.4,728.4 480.4,730.6 C482.4,732.8 484.4,735.1 485.2,736.0" stroke="#161616" stroke-width="1.35" fill="none" />
<g transform="translate(486.2,743.0) rotate(38)"><rect x="-5.8" y="-2.7" width="5" height="5.4" fill="#fff" stroke="#161616" stroke-width="1.1"/><rect x="-0.8" y="-3.1" width="7.2" height="6.2" fill="#1a1a1a"/><line x1="1.6" y1="-3" x2="1.6" y2="3" stroke="#aaa" stroke-width="0.5"/><line x1="4.0" y1="-3" x2="4.0" y2="3" stroke="#aaa" stroke-width="0.5"/></g>
<g transform="translate(479.4,747.6) rotate(38)"><rect x="-5.8" y="-2.7" width="5" height="5.4" fill="#fff" stroke="#161616" stroke-width="1.1"/><rect x="-0.8" y="-3.1" width="7.2" height="6.2" fill="#1a1a1a"/><line x1="1.6" y1="-3" x2="1.6" y2="3" stroke="#aaa" stroke-width="0.5"/><line x1="4.0" y1="-3" x2="4.0" y2="3" stroke="#aaa" stroke-width="0.5"/></g>
<line x1="393.6" y1="775.0" x2="435.6" y2="775.0" stroke="#161616" stroke-width="1.35" />
<line x1="435.6" y1="775.0" x2="476.6" y2="750.6" stroke="#161616" stroke-width="1.35" />
<ellipse cx="460.8" cy="794.9" rx="12.5" ry="3.1" stroke="#161616" stroke-width="1.35" fill="none"/>
<path d="M448.6,794 A12.5,2.6 0 0 1 473,794" stroke="#161616" stroke-width="0.8" fill="none" />
<line x1="393.6" y1="826.8" x2="456.6" y2="826.8" stroke="#161616" stroke-width="1.35" />
<path d="M456.8,823.4 L464.8,823.4 L464.8,827.4 Q464.6,831 460.8,831 Q457,831 456.8,827.4 Z" stroke="#161616" stroke-width="1.35" fill="none" />
</svg>
</body></html>
